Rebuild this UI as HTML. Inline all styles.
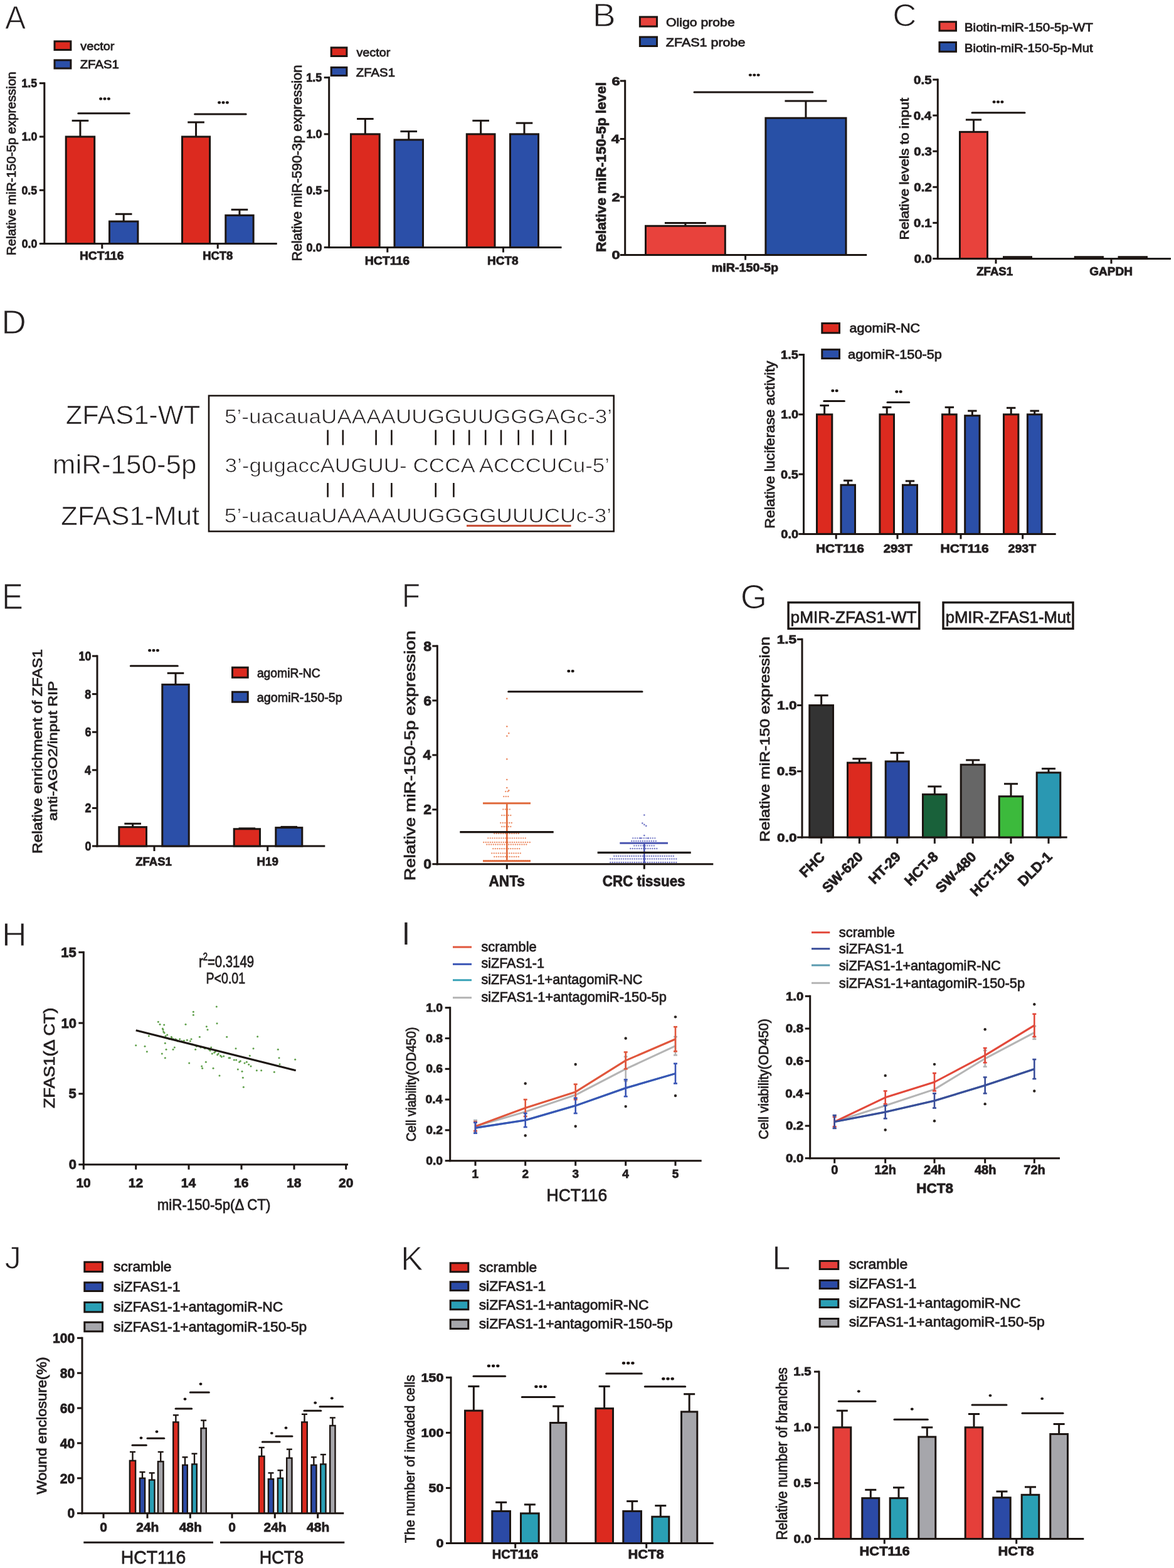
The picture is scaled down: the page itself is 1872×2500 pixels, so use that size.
<!DOCTYPE html>
<html><head><meta charset="utf-8"><title>Figure</title>
<style>
html,body{margin:0;padding:0;background:#fff;}
svg{display:block;}
text{font-family:"Liberation Sans",Arial,Helvetica,sans-serif;stroke:#231f20;stroke-width:0.8px;}
</style></head><body>
<svg width="1872" height="2500" viewBox="0 0 1872 2500">
<rect width="1872" height="2500" fill="#fff"/>
<text x="7.9" y="46" font-size="52.33" font-weight="normal" fill="#231f20" textLength="33.2" lengthAdjust="spacingAndGlyphs" style="stroke:#fff;stroke-width:1.1px">A</text>
<line x1="70.8" y1="131.2" x2="70.8" y2="390" stroke="#1c1512" stroke-width="3" stroke-linecap="butt"/>
<line x1="69.3" y1="388.5" x2="441.7" y2="388.5" stroke="#1c1512" stroke-width="3" stroke-linecap="butt"/>
<line x1="62.8" y1="388.5" x2="70.8" y2="388.5" stroke="#1c1512" stroke-width="3" stroke-linecap="butt"/>
<line x1="62.8" y1="303.23" x2="70.8" y2="303.23" stroke="#1c1512" stroke-width="3" stroke-linecap="butt"/>
<line x1="62.8" y1="217.97" x2="70.8" y2="217.97" stroke="#1c1512" stroke-width="3" stroke-linecap="butt"/>
<line x1="62.8" y1="132.7" x2="70.8" y2="132.7" stroke="#1c1512" stroke-width="3" stroke-linecap="butt"/>
<line x1="162.8" y1="388.5" x2="162.8" y2="396.5" stroke="#1c1512" stroke-width="3" stroke-linecap="butt"/>
<line x1="347.2" y1="388.5" x2="347.2" y2="396.5" stroke="#1c1512" stroke-width="3" stroke-linecap="butt"/>
<line x1="127.95" y1="192.39" x2="127.95" y2="217.47" stroke="#1c1512" stroke-width="3" stroke-linecap="butt"/>
<line x1="114.65" y1="192.39" x2="141.25" y2="192.39" stroke="#1c1512" stroke-width="3" stroke-linecap="butt"/>
<rect x="105.2" y="217.97" width="45.5" height="170.53" fill="#dc2a1f" stroke="#1c1512" stroke-width="3"/>
<line x1="197.2" y1="341.26" x2="197.2" y2="352.53" stroke="#1c1512" stroke-width="3" stroke-linecap="butt"/>
<line x1="183.9" y1="341.26" x2="210.5" y2="341.26" stroke="#1c1512" stroke-width="3" stroke-linecap="butt"/>
<rect x="174.5" y="353.03" width="45.4" height="35.47" fill="#2b4fa8" stroke="#1c1512" stroke-width="3"/>
<line x1="312.55" y1="194.94" x2="312.55" y2="217.47" stroke="#1c1512" stroke-width="3" stroke-linecap="butt"/>
<line x1="299.25" y1="194.94" x2="325.85" y2="194.94" stroke="#1c1512" stroke-width="3" stroke-linecap="butt"/>
<rect x="290.5" y="217.97" width="44.1" height="170.53" fill="#dc2a1f" stroke="#1c1512" stroke-width="3"/>
<line x1="381.95" y1="334.27" x2="381.95" y2="342.81" stroke="#1c1512" stroke-width="3" stroke-linecap="butt"/>
<line x1="368.65" y1="334.27" x2="395.25" y2="334.27" stroke="#1c1512" stroke-width="3" stroke-linecap="butt"/>
<rect x="359.8" y="343.31" width="44.3" height="45.19" fill="#2b4fa8" stroke="#1c1512" stroke-width="3"/>
<line x1="124.8" y1="180.8" x2="206.2" y2="180.8" stroke="#1c1512" stroke-width="3" stroke-linecap="round"/>
<ellipse cx="160.6" cy="157.5" rx="2.55" ry="2.2" fill="#1c1512"/>
<ellipse cx="167" cy="157.5" rx="2.55" ry="2.2" fill="#1c1512"/>
<ellipse cx="173.4" cy="157.5" rx="2.55" ry="2.2" fill="#1c1512"/>
<line x1="310.6" y1="182" x2="392.2" y2="182" stroke="#1c1512" stroke-width="3" stroke-linecap="round"/>
<ellipse cx="349.6" cy="163.5" rx="2.55" ry="2.2" fill="#1c1512"/>
<ellipse cx="356" cy="163.5" rx="2.55" ry="2.2" fill="#1c1512"/>
<ellipse cx="362.4" cy="163.5" rx="2.55" ry="2.2" fill="#1c1512"/>
<text x="34.69" y="394.78" font-size="18" font-weight="bold" fill="#231f20" textLength="24.52" lengthAdjust="spacingAndGlyphs">0.0</text>
<text x="34.46" y="309.52" font-size="18" font-weight="bold" fill="#231f20" textLength="24.52" lengthAdjust="spacingAndGlyphs">0.5</text>
<text x="34.69" y="224.25" font-size="18" font-weight="bold" fill="#231f20" textLength="24.52" lengthAdjust="spacingAndGlyphs">1.0</text>
<text x="34.46" y="138.89" font-size="18" font-weight="bold" fill="#231f20" textLength="24.52" lengthAdjust="spacingAndGlyphs">1.5</text>
<text x="127.03" y="413.9" font-size="17.5" font-weight="bold" fill="#231f20" textLength="70.35" lengthAdjust="spacingAndGlyphs">HCT116</text>
<text x="323.18" y="413.9" font-size="17.5" font-weight="bold" fill="#231f20" textLength="48.18" lengthAdjust="spacingAndGlyphs">HCT8</text>
<text transform="translate(25,407.19) rotate(-90)" x="0" y="0" font-size="21" font-weight="normal" fill="#231f20" textLength="293.02" lengthAdjust="spacingAndGlyphs">Relative miR-150-5p expression</text>
<rect x="87" y="65.9" width="25.9" height="13.6" fill="#dc2a1f" stroke="#1c1512" stroke-width="3"/>
<rect x="87" y="95.9" width="25.9" height="13.1" fill="#2b4fa8" stroke="#1c1512" stroke-width="3"/>
<text x="128.24" y="80" font-size="19" font-weight="normal" fill="#231f20" textLength="54.08" lengthAdjust="spacingAndGlyphs">vector</text>
<text x="127.67" y="108.9" font-size="19" font-weight="normal" fill="#231f20" textLength="62.2" lengthAdjust="spacingAndGlyphs">ZFAS1</text>
<line x1="524.7" y1="122.1" x2="524.7" y2="395.9" stroke="#1c1512" stroke-width="3" stroke-linecap="butt"/>
<line x1="523.2" y1="394.4" x2="895.5" y2="394.4" stroke="#1c1512" stroke-width="3" stroke-linecap="butt"/>
<line x1="516.7" y1="394.4" x2="524.7" y2="394.4" stroke="#1c1512" stroke-width="3" stroke-linecap="butt"/>
<line x1="516.7" y1="304.13" x2="524.7" y2="304.13" stroke="#1c1512" stroke-width="3" stroke-linecap="butt"/>
<line x1="516.7" y1="213.87" x2="524.7" y2="213.87" stroke="#1c1512" stroke-width="3" stroke-linecap="butt"/>
<line x1="516.7" y1="123.6" x2="524.7" y2="123.6" stroke="#1c1512" stroke-width="3" stroke-linecap="butt"/>
<line x1="617.8" y1="394.4" x2="617.8" y2="402.4" stroke="#1c1512" stroke-width="3" stroke-linecap="butt"/>
<line x1="802.5" y1="394.4" x2="802.5" y2="402.4" stroke="#1c1512" stroke-width="3" stroke-linecap="butt"/>
<line x1="582.35" y1="189.49" x2="582.35" y2="213.37" stroke="#1c1512" stroke-width="3" stroke-linecap="butt"/>
<line x1="569.05" y1="189.49" x2="595.65" y2="189.49" stroke="#1c1512" stroke-width="3" stroke-linecap="butt"/>
<rect x="559.5" y="213.87" width="45.7" height="180.53" fill="#dc2a1f" stroke="#1c1512" stroke-width="3"/>
<line x1="651.75" y1="209.53" x2="651.75" y2="222.39" stroke="#1c1512" stroke-width="3" stroke-linecap="butt"/>
<line x1="638.45" y1="209.53" x2="665.05" y2="209.53" stroke="#1c1512" stroke-width="3" stroke-linecap="butt"/>
<rect x="629" y="222.89" width="45.5" height="171.51" fill="#2b4fa8" stroke="#1c1512" stroke-width="3"/>
<line x1="766.65" y1="192.38" x2="766.65" y2="213.37" stroke="#1c1512" stroke-width="3" stroke-linecap="butt"/>
<line x1="753.35" y1="192.38" x2="779.95" y2="192.38" stroke="#1c1512" stroke-width="3" stroke-linecap="butt"/>
<rect x="744.3" y="213.87" width="44.7" height="180.53" fill="#dc2a1f" stroke="#1c1512" stroke-width="3"/>
<line x1="836" y1="196.17" x2="836" y2="213.37" stroke="#1c1512" stroke-width="3" stroke-linecap="butt"/>
<line x1="822.7" y1="196.17" x2="849.3" y2="196.17" stroke="#1c1512" stroke-width="3" stroke-linecap="butt"/>
<rect x="813.5" y="213.87" width="45" height="180.53" fill="#2b4fa8" stroke="#1c1512" stroke-width="3"/>
<text x="488.4" y="400.68" font-size="18" font-weight="bold" fill="#231f20" textLength="25.02" lengthAdjust="spacingAndGlyphs">0.0</text>
<text x="488.17" y="310.42" font-size="18" font-weight="bold" fill="#231f20" textLength="25.02" lengthAdjust="spacingAndGlyphs">0.5</text>
<text x="488.4" y="220.15" font-size="18" font-weight="bold" fill="#231f20" textLength="25.02" lengthAdjust="spacingAndGlyphs">1.0</text>
<text x="488.17" y="129.79" font-size="18" font-weight="bold" fill="#231f20" textLength="25.02" lengthAdjust="spacingAndGlyphs">1.5</text>
<text x="581.71" y="422" font-size="17.5" font-weight="bold" fill="#231f20" textLength="71.48" lengthAdjust="spacingAndGlyphs">HCT116</text>
<text x="777.05" y="422" font-size="17.5" font-weight="bold" fill="#231f20" textLength="49.53" lengthAdjust="spacingAndGlyphs">HCT8</text>
<text transform="translate(480.5,416.4) rotate(-90)" x="0" y="0" font-size="21.5" font-weight="normal" fill="#231f20" textLength="312.92" lengthAdjust="spacingAndGlyphs">Relative miR-590-3p expression</text>
<rect x="528.2" y="75.9" width="24.7" height="13.6" fill="#dc2a1f" stroke="#1c1512" stroke-width="3"/>
<rect x="528.2" y="107.5" width="24.7" height="13" fill="#2b4fa8" stroke="#1c1512" stroke-width="3"/>
<text x="568.44" y="90" font-size="19" font-weight="normal" fill="#231f20" textLength="53.88" lengthAdjust="spacingAndGlyphs">vector</text>
<text x="567.87" y="121.5" font-size="19" font-weight="normal" fill="#231f20" textLength="62.1" lengthAdjust="spacingAndGlyphs">ZFAS1</text>
<text x="944.85" y="41.7" font-size="52.62" font-weight="normal" fill="#231f20" textLength="37.04" lengthAdjust="spacingAndGlyphs" style="stroke:#fff;stroke-width:1.1px">B</text>
<line x1="996.7" y1="127.5" x2="996.7" y2="408" stroke="#1c1512" stroke-width="3" stroke-linecap="butt"/>
<line x1="995.2" y1="406.5" x2="1382.2" y2="406.5" stroke="#1c1512" stroke-width="3" stroke-linecap="butt"/>
<line x1="988.7" y1="406.5" x2="996.7" y2="406.5" stroke="#1c1512" stroke-width="3" stroke-linecap="butt"/>
<line x1="988.7" y1="314" x2="996.7" y2="314" stroke="#1c1512" stroke-width="3" stroke-linecap="butt"/>
<line x1="988.7" y1="221.5" x2="996.7" y2="221.5" stroke="#1c1512" stroke-width="3" stroke-linecap="butt"/>
<line x1="988.7" y1="129" x2="996.7" y2="129" stroke="#1c1512" stroke-width="3" stroke-linecap="butt"/>
<line x1="1188.6" y1="406.5" x2="1188.6" y2="414.5" stroke="#1c1512" stroke-width="3" stroke-linecap="butt"/>
<line x1="1092.9" y1="355.62" x2="1092.9" y2="359.75" stroke="#1c1512" stroke-width="3" stroke-linecap="butt"/>
<line x1="1059.9" y1="355.62" x2="1125.9" y2="355.62" stroke="#1c1512" stroke-width="3" stroke-linecap="butt"/>
<rect x="1029.5" y="360.25" width="126.8" height="46.25" fill="#e8423c" stroke="#1c1512" stroke-width="3"/>
<line x1="1284.95" y1="160.91" x2="1284.95" y2="187.7" stroke="#1c1512" stroke-width="3" stroke-linecap="butt"/>
<line x1="1251.45" y1="160.91" x2="1318.45" y2="160.91" stroke="#1c1512" stroke-width="3" stroke-linecap="butt"/>
<rect x="1220.9" y="188.2" width="128.1" height="218.3" fill="#2850a6" stroke="#1c1512" stroke-width="3"/>
<line x1="1107" y1="147" x2="1295.8" y2="147" stroke="#1c1512" stroke-width="3" stroke-linecap="round"/>
<ellipse cx="1196.4" cy="119.6" rx="2.55" ry="2.2" fill="#1c1512"/>
<ellipse cx="1202.8" cy="119.6" rx="2.55" ry="2.2" fill="#1c1512"/>
<ellipse cx="1209.2" cy="119.6" rx="2.55" ry="2.2" fill="#1c1512"/>
<text x="975.54" y="413.13" font-size="19" font-weight="bold" fill="#231f20" textLength="13.21" lengthAdjust="spacingAndGlyphs">0</text>
<text x="975.52" y="320.63" font-size="19" font-weight="bold" fill="#231f20" textLength="13.21" lengthAdjust="spacingAndGlyphs">2</text>
<text x="974.71" y="228.04" font-size="19" font-weight="bold" fill="#231f20" textLength="13.21" lengthAdjust="spacingAndGlyphs">4</text>
<text x="975.43" y="135.63" font-size="19" font-weight="bold" fill="#231f20" textLength="13.21" lengthAdjust="spacingAndGlyphs">6</text>
<text x="1134.72" y="433.3" font-size="17.5" font-weight="bold" fill="#231f20" textLength="106.39" lengthAdjust="spacingAndGlyphs">miR-150-5p</text>
<text transform="translate(965.7,401.79) rotate(-90)" x="0" y="0" font-size="22" font-weight="bold" fill="#231f20" textLength="270.77" lengthAdjust="spacingAndGlyphs">Relative miR-150-5p level</text>
<rect x="1020.4" y="27" width="27.1" height="15.1" fill="#e8423c" stroke="#1c1512" stroke-width="3"/>
<rect x="1020.4" y="59" width="27.1" height="14.5" fill="#2850a6" stroke="#1c1512" stroke-width="3"/>
<text x="1062" y="42.2" font-size="19" font-weight="normal" fill="#231f20" textLength="109.73" lengthAdjust="spacingAndGlyphs">Oligo probe</text>
<text x="1061.83" y="74.2" font-size="19" font-weight="normal" fill="#231f20" textLength="126.61" lengthAdjust="spacingAndGlyphs">ZFAS1 probe</text>
<text x="1423.35" y="41.6" font-size="50.28" font-weight="normal" fill="#231f20" textLength="38.21" lengthAdjust="spacingAndGlyphs" style="stroke:#fff;stroke-width:1.1px">C</text>
<line x1="1495.3" y1="125.5" x2="1495.3" y2="413.9" stroke="#1c1512" stroke-width="3" stroke-linecap="butt"/>
<line x1="1493.8" y1="412.4" x2="1867" y2="412.4" stroke="#1c1512" stroke-width="3" stroke-linecap="butt"/>
<line x1="1487.3" y1="412.4" x2="1495.3" y2="412.4" stroke="#1c1512" stroke-width="3" stroke-linecap="butt"/>
<line x1="1487.3" y1="355.32" x2="1495.3" y2="355.32" stroke="#1c1512" stroke-width="3" stroke-linecap="butt"/>
<line x1="1487.3" y1="298.24" x2="1495.3" y2="298.24" stroke="#1c1512" stroke-width="3" stroke-linecap="butt"/>
<line x1="1487.3" y1="241.16" x2="1495.3" y2="241.16" stroke="#1c1512" stroke-width="3" stroke-linecap="butt"/>
<line x1="1487.3" y1="184.08" x2="1495.3" y2="184.08" stroke="#1c1512" stroke-width="3" stroke-linecap="butt"/>
<line x1="1487.3" y1="127" x2="1495.3" y2="127" stroke="#1c1512" stroke-width="3" stroke-linecap="butt"/>
<line x1="1588" y1="412.4" x2="1588" y2="420.4" stroke="#1c1512" stroke-width="3" stroke-linecap="butt"/>
<line x1="1772" y1="412.4" x2="1772" y2="420.4" stroke="#1c1512" stroke-width="3" stroke-linecap="butt"/>
<line x1="1552.5" y1="190.93" x2="1552.5" y2="209.84" stroke="#1c1512" stroke-width="3" stroke-linecap="butt"/>
<line x1="1539.9" y1="190.93" x2="1565.1" y2="190.93" stroke="#1c1512" stroke-width="3" stroke-linecap="butt"/>
<rect x="1530.5" y="210.34" width="44" height="202.06" fill="#e8423c" stroke="#1c1512" stroke-width="3"/>
<rect x="1600.3" y="409.5" width="44.4" height="2.9" fill="#333" stroke="#1c1512" stroke-width="2.6"/>
<rect x="1714" y="409.5" width="44.7" height="2.9" fill="#333" stroke="#1c1512" stroke-width="2.6"/>
<rect x="1783.8" y="409.5" width="44.9" height="2.9" fill="#333" stroke="#1c1512" stroke-width="2.6"/>
<line x1="1550" y1="179.7" x2="1634" y2="179.7" stroke="#1c1512" stroke-width="3" stroke-linecap="round"/>
<ellipse cx="1585.1" cy="162.5" rx="2.55" ry="2.2" fill="#1c1512"/>
<ellipse cx="1591.5" cy="162.5" rx="2.55" ry="2.2" fill="#1c1512"/>
<ellipse cx="1597.9" cy="162.5" rx="2.55" ry="2.2" fill="#1c1512"/>
<text x="1457.4" y="419.03" font-size="19" font-weight="bold" fill="#231f20" textLength="28.53" lengthAdjust="spacingAndGlyphs">0.0</text>
<text x="1457.13" y="361.95" font-size="19" font-weight="bold" fill="#231f20" textLength="28.53" lengthAdjust="spacingAndGlyphs">0.1</text>
<text x="1457.38" y="304.87" font-size="19" font-weight="bold" fill="#231f20" textLength="28.53" lengthAdjust="spacingAndGlyphs">0.2</text>
<text x="1457.3" y="247.79" font-size="19" font-weight="bold" fill="#231f20" textLength="28.53" lengthAdjust="spacingAndGlyphs">0.3</text>
<text x="1456.68" y="190.71" font-size="19" font-weight="bold" fill="#231f20" textLength="28.53" lengthAdjust="spacingAndGlyphs">0.4</text>
<text x="1457.13" y="133.63" font-size="19" font-weight="bold" fill="#231f20" textLength="28.53" lengthAdjust="spacingAndGlyphs">0.5</text>
<text x="1557.16" y="439" font-size="17.5" font-weight="bold" fill="#231f20" textLength="58.04" lengthAdjust="spacingAndGlyphs">ZFAS1</text>
<text x="1737.22" y="439" font-size="17.5" font-weight="bold" fill="#231f20" textLength="68.87" lengthAdjust="spacingAndGlyphs">GAPDH</text>
<text transform="translate(1449,382.46) rotate(-90)" x="0" y="0" font-size="20" font-weight="normal" fill="#231f20" textLength="226.4" lengthAdjust="spacingAndGlyphs">Relative levels to input</text>
<rect x="1498" y="34.8" width="26.5" height="14.2" fill="#e8423c" stroke="#1c1512" stroke-width="3"/>
<rect x="1498" y="67.5" width="26.5" height="14.8" fill="#2850a6" stroke="#1c1512" stroke-width="3"/>
<text x="1537.81" y="50" font-size="19" font-weight="normal" fill="#231f20" textLength="205.15" lengthAdjust="spacingAndGlyphs">Biotin-miR-150-5p-WT</text>
<text x="1537.83" y="82.6" font-size="19" font-weight="normal" fill="#231f20" textLength="204.81" lengthAdjust="spacingAndGlyphs">Biotin-miR-150-5p-Mut</text>
<text x="2.19" y="531.7" font-size="53.34" font-weight="normal" fill="#231f20" textLength="39.7" lengthAdjust="spacingAndGlyphs" style="stroke:#fff;stroke-width:1.1px">D</text>
<rect x="333" y="630.9" width="645.7" height="216.3" fill="none" stroke="#1c1512" stroke-width="2.6"/>
<text x="104.65" y="676" font-size="42" font-weight="normal" fill="#231f20" textLength="214.62" lengthAdjust="spacingAndGlyphs" style="stroke:#fff;stroke-width:0.7px">ZFAS1-WT</text>
<text x="83.8" y="755" font-size="42" font-weight="normal" fill="#231f20" textLength="229.71" lengthAdjust="spacingAndGlyphs" style="stroke:#fff;stroke-width:0.7px">miR-150-5p</text>
<text x="96.94" y="837.3" font-size="42" font-weight="normal" fill="#231f20" textLength="221.35" lengthAdjust="spacingAndGlyphs" style="stroke:#fff;stroke-width:0.7px">ZFAS1-Mut</text>
<text x="357.9" y="675" font-size="31" font-weight="normal" fill="#231f20" textLength="618.26" lengthAdjust="spacingAndGlyphs" style="stroke:#fff;stroke-width:0.7px">5’-uacauaUAAAAUUGGUUGGGAGc-3’</text>
<text x="358.47" y="753.4" font-size="31" font-weight="normal" fill="#231f20" textLength="613.69" lengthAdjust="spacingAndGlyphs" style="stroke:#fff;stroke-width:0.7px">3’-gugaccAUGUU- CCCA ACCCUCu-5’</text>
<text x="357.89" y="833.4" font-size="31" font-weight="normal" fill="#231f20" textLength="617.26" lengthAdjust="spacingAndGlyphs" style="stroke:#fff;stroke-width:0.7px">5’-uacauaUAAAAUUGGGGUUUCUc-3’</text>
<line x1="522.6" y1="685.5" x2="522.6" y2="709.6" stroke="#1c1512" stroke-width="2.6" stroke-linecap="butt"/>
<line x1="546.8" y1="685.5" x2="546.8" y2="709.6" stroke="#1c1512" stroke-width="2.6" stroke-linecap="butt"/>
<line x1="599.6" y1="685.5" x2="599.6" y2="709.6" stroke="#1c1512" stroke-width="2.6" stroke-linecap="butt"/>
<line x1="624.4" y1="685.5" x2="624.4" y2="709.6" stroke="#1c1512" stroke-width="2.6" stroke-linecap="butt"/>
<line x1="694.7" y1="685.5" x2="694.7" y2="709.6" stroke="#1c1512" stroke-width="2.6" stroke-linecap="butt"/>
<line x1="723.4" y1="685.5" x2="723.4" y2="709.6" stroke="#1c1512" stroke-width="2.6" stroke-linecap="butt"/>
<line x1="748.2" y1="685.5" x2="748.2" y2="709.6" stroke="#1c1512" stroke-width="2.6" stroke-linecap="butt"/>
<line x1="774.2" y1="685.5" x2="774.2" y2="709.6" stroke="#1c1512" stroke-width="2.6" stroke-linecap="butt"/>
<line x1="799" y1="685.5" x2="799" y2="709.6" stroke="#1c1512" stroke-width="2.6" stroke-linecap="butt"/>
<line x1="826.7" y1="685.5" x2="826.7" y2="709.6" stroke="#1c1512" stroke-width="2.6" stroke-linecap="butt"/>
<line x1="849.6" y1="685.5" x2="849.6" y2="709.6" stroke="#1c1512" stroke-width="2.6" stroke-linecap="butt"/>
<line x1="878.9" y1="685.5" x2="878.9" y2="709.6" stroke="#1c1512" stroke-width="2.6" stroke-linecap="butt"/>
<line x1="901.6" y1="685.5" x2="901.6" y2="709.6" stroke="#1c1512" stroke-width="2.6" stroke-linecap="butt"/>
<line x1="522.6" y1="770" x2="522.6" y2="792.7" stroke="#1c1512" stroke-width="2.6" stroke-linecap="butt"/>
<line x1="546.8" y1="770" x2="546.8" y2="792.7" stroke="#1c1512" stroke-width="2.6" stroke-linecap="butt"/>
<line x1="595" y1="770" x2="595" y2="792.7" stroke="#1c1512" stroke-width="2.6" stroke-linecap="butt"/>
<line x1="624.4" y1="770" x2="624.4" y2="792.7" stroke="#1c1512" stroke-width="2.6" stroke-linecap="butt"/>
<line x1="694.7" y1="770" x2="694.7" y2="792.7" stroke="#1c1512" stroke-width="2.6" stroke-linecap="butt"/>
<line x1="723.4" y1="770" x2="723.4" y2="792.7" stroke="#1c1512" stroke-width="2.6" stroke-linecap="butt"/>
<line x1="744" y1="838.2" x2="910.6" y2="838.2" stroke="#c4462c" stroke-width="3" stroke-linecap="butt"/>
<line x1="1281.5" y1="564" x2="1281.5" y2="852.9" stroke="#1c1512" stroke-width="3" stroke-linecap="butt"/>
<line x1="1280" y1="851.4" x2="1683.7" y2="851.4" stroke="#1c1512" stroke-width="3" stroke-linecap="butt"/>
<line x1="1273.5" y1="851.4" x2="1281.5" y2="851.4" stroke="#1c1512" stroke-width="3" stroke-linecap="butt"/>
<line x1="1273.5" y1="756.1" x2="1281.5" y2="756.1" stroke="#1c1512" stroke-width="3" stroke-linecap="butt"/>
<line x1="1273.5" y1="660.8" x2="1281.5" y2="660.8" stroke="#1c1512" stroke-width="3" stroke-linecap="butt"/>
<line x1="1273.5" y1="565.5" x2="1281.5" y2="565.5" stroke="#1c1512" stroke-width="3" stroke-linecap="butt"/>
<line x1="1333.2" y1="851.4" x2="1333.2" y2="859.4" stroke="#1c1512" stroke-width="3" stroke-linecap="butt"/>
<line x1="1431" y1="851.4" x2="1431" y2="859.4" stroke="#1c1512" stroke-width="3" stroke-linecap="butt"/>
<line x1="1532" y1="851.4" x2="1532" y2="859.4" stroke="#1c1512" stroke-width="3" stroke-linecap="butt"/>
<line x1="1630.7" y1="851.4" x2="1630.7" y2="859.4" stroke="#1c1512" stroke-width="3" stroke-linecap="butt"/>
<line x1="1314.65" y1="646.5" x2="1314.65" y2="660.3" stroke="#1c1512" stroke-width="3" stroke-linecap="butt"/>
<line x1="1307.45" y1="646.5" x2="1321.85" y2="646.5" stroke="#1c1512" stroke-width="3" stroke-linecap="butt"/>
<rect x="1302.5" y="660.8" width="24.3" height="190.6" fill="#dc2a1f" stroke="#1c1512" stroke-width="3"/>
<line x1="1352.25" y1="766.2" x2="1352.25" y2="772.75" stroke="#1c1512" stroke-width="3" stroke-linecap="butt"/>
<line x1="1345.05" y1="766.2" x2="1359.45" y2="766.2" stroke="#1c1512" stroke-width="3" stroke-linecap="butt"/>
<rect x="1341" y="773.25" width="22.5" height="78.15" fill="#2b4fa8" stroke="#1c1512" stroke-width="3"/>
<line x1="1414.2" y1="649.36" x2="1414.2" y2="660.3" stroke="#1c1512" stroke-width="3" stroke-linecap="butt"/>
<line x1="1407" y1="649.36" x2="1421.4" y2="649.36" stroke="#1c1512" stroke-width="3" stroke-linecap="butt"/>
<rect x="1402.9" y="660.8" width="22.6" height="190.6" fill="#dc2a1f" stroke="#1c1512" stroke-width="3"/>
<line x1="1451" y1="766.96" x2="1451" y2="772.75" stroke="#1c1512" stroke-width="3" stroke-linecap="butt"/>
<line x1="1443.8" y1="766.96" x2="1458.2" y2="766.96" stroke="#1c1512" stroke-width="3" stroke-linecap="butt"/>
<rect x="1439.5" y="773.25" width="23" height="78.15" fill="#2b4fa8" stroke="#1c1512" stroke-width="3"/>
<line x1="1513.85" y1="649.36" x2="1513.85" y2="660.3" stroke="#1c1512" stroke-width="3" stroke-linecap="butt"/>
<line x1="1506.65" y1="649.36" x2="1521.05" y2="649.36" stroke="#1c1512" stroke-width="3" stroke-linecap="butt"/>
<rect x="1502.5" y="660.8" width="22.7" height="190.6" fill="#dc2a1f" stroke="#1c1512" stroke-width="3"/>
<line x1="1550.35" y1="655.08" x2="1550.35" y2="662.21" stroke="#1c1512" stroke-width="3" stroke-linecap="butt"/>
<line x1="1543.15" y1="655.08" x2="1557.55" y2="655.08" stroke="#1c1512" stroke-width="3" stroke-linecap="butt"/>
<rect x="1538.7" y="662.71" width="23.3" height="188.69" fill="#2b4fa8" stroke="#1c1512" stroke-width="3"/>
<line x1="1612.2" y1="650.32" x2="1612.2" y2="660.3" stroke="#1c1512" stroke-width="3" stroke-linecap="butt"/>
<line x1="1605" y1="650.32" x2="1619.4" y2="650.32" stroke="#1c1512" stroke-width="3" stroke-linecap="butt"/>
<rect x="1600.5" y="660.8" width="23.4" height="190.6" fill="#dc2a1f" stroke="#1c1512" stroke-width="3"/>
<line x1="1649.7" y1="655.08" x2="1649.7" y2="660.3" stroke="#1c1512" stroke-width="3" stroke-linecap="butt"/>
<line x1="1642.5" y1="655.08" x2="1656.9" y2="655.08" stroke="#1c1512" stroke-width="3" stroke-linecap="butt"/>
<rect x="1638.4" y="660.8" width="22.6" height="190.6" fill="#2b4fa8" stroke="#1c1512" stroke-width="3"/>
<line x1="1313.8" y1="639.5" x2="1346.4" y2="639.5" stroke="#1c1512" stroke-width="3" stroke-linecap="round"/>
<ellipse cx="1327.8" cy="623" rx="2.55" ry="2.2" fill="#1c1512"/>
<ellipse cx="1334.2" cy="623" rx="2.55" ry="2.2" fill="#1c1512"/>
<line x1="1415" y1="641.6" x2="1449.7" y2="641.6" stroke="#1c1512" stroke-width="3" stroke-linecap="round"/>
<ellipse cx="1429.8" cy="624.5" rx="2.55" ry="2.2" fill="#1c1512"/>
<ellipse cx="1436.2" cy="624.5" rx="2.55" ry="2.2" fill="#1c1512"/>
<text x="1245.37" y="858.03" font-size="19" font-weight="bold" fill="#231f20" textLength="27.73" lengthAdjust="spacingAndGlyphs">0.0</text>
<text x="1245.11" y="762.73" font-size="19" font-weight="bold" fill="#231f20" textLength="27.73" lengthAdjust="spacingAndGlyphs">0.5</text>
<text x="1245.37" y="667.43" font-size="19" font-weight="bold" fill="#231f20" textLength="27.73" lengthAdjust="spacingAndGlyphs">1.0</text>
<text x="1245.11" y="572.04" font-size="19" font-weight="bold" fill="#231f20" textLength="27.73" lengthAdjust="spacingAndGlyphs">1.5</text>
<text x="1300.91" y="881" font-size="19" font-weight="bold" fill="#231f20" textLength="77.03" lengthAdjust="spacingAndGlyphs">HCT116</text>
<text x="1408.81" y="881" font-size="19" font-weight="bold" fill="#231f20" textLength="46.2" lengthAdjust="spacingAndGlyphs">293T</text>
<text x="1499.61" y="881" font-size="19" font-weight="bold" fill="#231f20" textLength="77.03" lengthAdjust="spacingAndGlyphs">HCT116</text>
<text x="1607.53" y="881" font-size="19" font-weight="bold" fill="#231f20" textLength="44.67" lengthAdjust="spacingAndGlyphs">293T</text>
<text transform="translate(1234.5,842.81) rotate(-90)" x="0" y="0" font-size="22" font-weight="normal" fill="#231f20" textLength="267.56" lengthAdjust="spacingAndGlyphs">Relative luciferase activity</text>
<rect x="1310.8" y="515.5" width="27.7" height="15.3" fill="#dc2a1f" stroke="#1c1512" stroke-width="3"/>
<rect x="1310.8" y="557.3" width="27.7" height="14.2" fill="#2b4fa8" stroke="#1c1512" stroke-width="3"/>
<text x="1354.6" y="530" font-size="20" font-weight="normal" fill="#231f20" textLength="112.51" lengthAdjust="spacingAndGlyphs">agomiR-NC</text>
<text x="1352.09" y="571.5" font-size="20" font-weight="normal" fill="#231f20" textLength="149.82" lengthAdjust="spacingAndGlyphs">agomiR-150-5p</text>
<text x="3.12" y="970.7" font-size="56.69" font-weight="normal" fill="#231f20" textLength="34.03" lengthAdjust="spacingAndGlyphs" style="stroke:#fff;stroke-width:1.1px">E</text>
<line x1="155" y1="1044.5" x2="155" y2="1350.5" stroke="#1c1512" stroke-width="3" stroke-linecap="butt"/>
<line x1="153.5" y1="1349" x2="518.3" y2="1349" stroke="#1c1512" stroke-width="3" stroke-linecap="butt"/>
<line x1="147" y1="1349" x2="155" y2="1349" stroke="#1c1512" stroke-width="3" stroke-linecap="butt"/>
<line x1="147" y1="1288.4" x2="155" y2="1288.4" stroke="#1c1512" stroke-width="3" stroke-linecap="butt"/>
<line x1="147" y1="1227.8" x2="155" y2="1227.8" stroke="#1c1512" stroke-width="3" stroke-linecap="butt"/>
<line x1="147" y1="1167.2" x2="155" y2="1167.2" stroke="#1c1512" stroke-width="3" stroke-linecap="butt"/>
<line x1="147" y1="1106.6" x2="155" y2="1106.6" stroke="#1c1512" stroke-width="3" stroke-linecap="butt"/>
<line x1="147" y1="1046" x2="155" y2="1046" stroke="#1c1512" stroke-width="3" stroke-linecap="butt"/>
<line x1="246" y1="1349" x2="246" y2="1357" stroke="#1c1512" stroke-width="3" stroke-linecap="butt"/>
<line x1="426.7" y1="1349" x2="426.7" y2="1357" stroke="#1c1512" stroke-width="3" stroke-linecap="butt"/>
<line x1="211.65" y1="1313.25" x2="211.65" y2="1318.2" stroke="#1c1512" stroke-width="3" stroke-linecap="butt"/>
<line x1="198.35" y1="1313.25" x2="224.95" y2="1313.25" stroke="#1c1512" stroke-width="3" stroke-linecap="butt"/>
<rect x="189.8" y="1318.7" width="43.7" height="30.3" fill="#dc2a1f" stroke="#1c1512" stroke-width="3"/>
<line x1="280" y1="1073.27" x2="280" y2="1090.95" stroke="#1c1512" stroke-width="3" stroke-linecap="butt"/>
<line x1="266.7" y1="1073.27" x2="293.3" y2="1073.27" stroke="#1c1512" stroke-width="3" stroke-linecap="butt"/>
<rect x="258.8" y="1091.45" width="42.4" height="257.55" fill="#2b4fa8" stroke="#1c1512" stroke-width="3"/>
<line x1="393.85" y1="1320.82" x2="393.85" y2="1321.23" stroke="#1c1512" stroke-width="3" stroke-linecap="butt"/>
<line x1="380.55" y1="1320.82" x2="407.15" y2="1320.82" stroke="#1c1512" stroke-width="3" stroke-linecap="butt"/>
<rect x="373.2" y="1321.73" width="41.3" height="27.27" fill="#dc2a1f" stroke="#1c1512" stroke-width="3"/>
<line x1="460.8" y1="1318.4" x2="460.8" y2="1319.11" stroke="#1c1512" stroke-width="3" stroke-linecap="butt"/>
<line x1="447.5" y1="1318.4" x2="474.1" y2="1318.4" stroke="#1c1512" stroke-width="3" stroke-linecap="butt"/>
<rect x="439.8" y="1319.61" width="42" height="29.39" fill="#2b4fa8" stroke="#1c1512" stroke-width="3"/>
<line x1="208.3" y1="1061.7" x2="283.3" y2="1061.7" stroke="#1c1512" stroke-width="3" stroke-linecap="round"/>
<ellipse cx="238.6" cy="1037" rx="2.55" ry="2.2" fill="#1c1512"/>
<ellipse cx="245" cy="1037" rx="2.55" ry="2.2" fill="#1c1512"/>
<ellipse cx="251.4" cy="1037" rx="2.55" ry="2.2" fill="#1c1512"/>
<text x="135.51" y="1355.98" font-size="20" font-weight="bold" fill="#231f20" textLength="10.01" lengthAdjust="spacingAndGlyphs">0</text>
<text x="135.49" y="1295.38" font-size="20" font-weight="bold" fill="#231f20" textLength="10.01" lengthAdjust="spacingAndGlyphs">2</text>
<text x="134.88" y="1234.68" font-size="20" font-weight="bold" fill="#231f20" textLength="10.01" lengthAdjust="spacingAndGlyphs">4</text>
<text x="135.42" y="1174.18" font-size="20" font-weight="bold" fill="#231f20" textLength="10.01" lengthAdjust="spacingAndGlyphs">6</text>
<text x="135.33" y="1113.58" font-size="20" font-weight="bold" fill="#231f20" textLength="10.01" lengthAdjust="spacingAndGlyphs">8</text>
<text x="125.5" y="1052.98" font-size="20" font-weight="bold" fill="#231f20" textLength="20.02" lengthAdjust="spacingAndGlyphs">10</text>
<text x="216.16" y="1380" font-size="19" font-weight="bold" fill="#231f20" textLength="57.63" lengthAdjust="spacingAndGlyphs">ZFAS1</text>
<text x="409.46" y="1380" font-size="19" font-weight="bold" fill="#231f20" textLength="34.53" lengthAdjust="spacingAndGlyphs">H19</text>
<text transform="translate(66.9,1361.01) rotate(-90)" x="0" y="0" font-size="21.5" font-weight="normal" fill="#231f20" textLength="325.88" lengthAdjust="spacingAndGlyphs">Relative enrichment of ZFAS1</text>
<text transform="translate(90.5,1308.73) rotate(-90)" x="0" y="0" font-size="21" font-weight="normal" fill="#231f20" textLength="223.01" lengthAdjust="spacingAndGlyphs">anti-AGO2/input RIP</text>
<rect x="370.5" y="1064.2" width="24.7" height="16" fill="#dc2a1f" stroke="#1c1512" stroke-width="3"/>
<rect x="370.5" y="1103.2" width="24.7" height="16" fill="#2b4fa8" stroke="#1c1512" stroke-width="3"/>
<text x="409.89" y="1080" font-size="20" font-weight="normal" fill="#231f20" textLength="100.83" lengthAdjust="spacingAndGlyphs">agomiR-NC</text>
<text x="409.87" y="1119.3" font-size="20" font-weight="normal" fill="#231f20" textLength="135.95" lengthAdjust="spacingAndGlyphs">agomiR-150-5p</text>
<text x="641.09" y="968.3" font-size="53.2" font-weight="normal" fill="#231f20" textLength="29.11" lengthAdjust="spacingAndGlyphs" style="stroke:#fff;stroke-width:1.1px">F</text>
<line x1="697.3" y1="1028.5" x2="697.3" y2="1379.2" stroke="#1c1512" stroke-width="3" stroke-linecap="butt"/>
<line x1="695.8" y1="1377.7" x2="1137.3" y2="1377.7" stroke="#1c1512" stroke-width="3" stroke-linecap="butt"/>
<line x1="689.3" y1="1377.7" x2="697.3" y2="1377.7" stroke="#1c1512" stroke-width="3" stroke-linecap="butt"/>
<line x1="689.3" y1="1290.78" x2="697.3" y2="1290.78" stroke="#1c1512" stroke-width="3" stroke-linecap="butt"/>
<line x1="689.3" y1="1203.85" x2="697.3" y2="1203.85" stroke="#1c1512" stroke-width="3" stroke-linecap="butt"/>
<line x1="689.3" y1="1116.92" x2="697.3" y2="1116.92" stroke="#1c1512" stroke-width="3" stroke-linecap="butt"/>
<line x1="689.3" y1="1030" x2="697.3" y2="1030" stroke="#1c1512" stroke-width="3" stroke-linecap="butt"/>
<line x1="808.3" y1="1377.7" x2="808.3" y2="1385.7" stroke="#1c1512" stroke-width="3" stroke-linecap="butt"/>
<line x1="1027.3" y1="1377.7" x2="1027.3" y2="1385.7" stroke="#1c1512" stroke-width="3" stroke-linecap="butt"/>
<circle cx="771.3" cy="1372.5" r="1.15" fill="#ec8a62"/>
<circle cx="774.8" cy="1372.5" r="1.15" fill="#ec8a62"/>
<circle cx="778.3" cy="1372.5" r="1.15" fill="#ec8a62"/>
<circle cx="781.8" cy="1372.5" r="1.15" fill="#ec8a62"/>
<circle cx="785.3" cy="1372.5" r="1.15" fill="#ec8a62"/>
<circle cx="788.8" cy="1372.5" r="1.15" fill="#ec8a62"/>
<circle cx="792.3" cy="1372.5" r="1.15" fill="#ec8a62"/>
<circle cx="795.8" cy="1372.5" r="1.15" fill="#ec8a62"/>
<circle cx="799.3" cy="1372.5" r="1.15" fill="#ec8a62"/>
<circle cx="802.8" cy="1372.5" r="1.15" fill="#ec8a62"/>
<circle cx="806.3" cy="1372.5" r="1.15" fill="#ec8a62"/>
<circle cx="809.8" cy="1372.5" r="1.15" fill="#ec8a62"/>
<circle cx="813.3" cy="1372.5" r="1.15" fill="#ec8a62"/>
<circle cx="816.8" cy="1372.5" r="1.15" fill="#ec8a62"/>
<circle cx="820.3" cy="1372.5" r="1.15" fill="#ec8a62"/>
<circle cx="823.8" cy="1372.5" r="1.15" fill="#ec8a62"/>
<circle cx="827.3" cy="1372.5" r="1.15" fill="#ec8a62"/>
<circle cx="830.8" cy="1372.5" r="1.15" fill="#ec8a62"/>
<circle cx="834.3" cy="1372.5" r="1.15" fill="#ec8a62"/>
<circle cx="837.8" cy="1372.5" r="1.15" fill="#ec8a62"/>
<circle cx="841.3" cy="1372.5" r="1.15" fill="#ec8a62"/>
<circle cx="844.8" cy="1372.5" r="1.15" fill="#ec8a62"/>
<circle cx="788.3" cy="1366" r="1.15" fill="#ec8a62"/>
<circle cx="791.8" cy="1366" r="1.15" fill="#ec8a62"/>
<circle cx="795.3" cy="1366" r="1.15" fill="#ec8a62"/>
<circle cx="798.8" cy="1366" r="1.15" fill="#ec8a62"/>
<circle cx="802.3" cy="1366" r="1.15" fill="#ec8a62"/>
<circle cx="805.8" cy="1366" r="1.15" fill="#ec8a62"/>
<circle cx="809.3" cy="1366" r="1.15" fill="#ec8a62"/>
<circle cx="812.8" cy="1366" r="1.15" fill="#ec8a62"/>
<circle cx="816.3" cy="1366" r="1.15" fill="#ec8a62"/>
<circle cx="819.8" cy="1366" r="1.15" fill="#ec8a62"/>
<circle cx="823.3" cy="1366" r="1.15" fill="#ec8a62"/>
<circle cx="826.8" cy="1366" r="1.15" fill="#ec8a62"/>
<circle cx="784.3" cy="1360.4" r="1.15" fill="#ec8a62"/>
<circle cx="787.8" cy="1360.4" r="1.15" fill="#ec8a62"/>
<circle cx="791.3" cy="1360.4" r="1.15" fill="#ec8a62"/>
<circle cx="794.8" cy="1360.4" r="1.15" fill="#ec8a62"/>
<circle cx="798.3" cy="1360.4" r="1.15" fill="#ec8a62"/>
<circle cx="801.8" cy="1360.4" r="1.15" fill="#ec8a62"/>
<circle cx="805.3" cy="1360.4" r="1.15" fill="#ec8a62"/>
<circle cx="808.8" cy="1360.4" r="1.15" fill="#ec8a62"/>
<circle cx="812.3" cy="1360.4" r="1.15" fill="#ec8a62"/>
<circle cx="815.8" cy="1360.4" r="1.15" fill="#ec8a62"/>
<circle cx="819.3" cy="1360.4" r="1.15" fill="#ec8a62"/>
<circle cx="822.8" cy="1360.4" r="1.15" fill="#ec8a62"/>
<circle cx="826.3" cy="1360.4" r="1.15" fill="#ec8a62"/>
<circle cx="829.8" cy="1360.4" r="1.15" fill="#ec8a62"/>
<circle cx="786.3" cy="1353.2" r="1.15" fill="#ec8a62"/>
<circle cx="789.8" cy="1353.2" r="1.15" fill="#ec8a62"/>
<circle cx="793.3" cy="1353.2" r="1.15" fill="#ec8a62"/>
<circle cx="796.8" cy="1353.2" r="1.15" fill="#ec8a62"/>
<circle cx="800.3" cy="1353.2" r="1.15" fill="#ec8a62"/>
<circle cx="803.8" cy="1353.2" r="1.15" fill="#ec8a62"/>
<circle cx="807.3" cy="1353.2" r="1.15" fill="#ec8a62"/>
<circle cx="810.8" cy="1353.2" r="1.15" fill="#ec8a62"/>
<circle cx="814.3" cy="1353.2" r="1.15" fill="#ec8a62"/>
<circle cx="817.8" cy="1353.2" r="1.15" fill="#ec8a62"/>
<circle cx="821.3" cy="1353.2" r="1.15" fill="#ec8a62"/>
<circle cx="824.8" cy="1353.2" r="1.15" fill="#ec8a62"/>
<circle cx="828.3" cy="1353.2" r="1.15" fill="#ec8a62"/>
<circle cx="776.3" cy="1346.5" r="1.15" fill="#ec8a62"/>
<circle cx="779.8" cy="1346.5" r="1.15" fill="#ec8a62"/>
<circle cx="783.3" cy="1346.5" r="1.15" fill="#ec8a62"/>
<circle cx="786.8" cy="1346.5" r="1.15" fill="#ec8a62"/>
<circle cx="790.3" cy="1346.5" r="1.15" fill="#ec8a62"/>
<circle cx="793.8" cy="1346.5" r="1.15" fill="#ec8a62"/>
<circle cx="797.3" cy="1346.5" r="1.15" fill="#ec8a62"/>
<circle cx="800.8" cy="1346.5" r="1.15" fill="#ec8a62"/>
<circle cx="804.3" cy="1346.5" r="1.15" fill="#ec8a62"/>
<circle cx="807.8" cy="1346.5" r="1.15" fill="#ec8a62"/>
<circle cx="811.3" cy="1346.5" r="1.15" fill="#ec8a62"/>
<circle cx="814.8" cy="1346.5" r="1.15" fill="#ec8a62"/>
<circle cx="818.3" cy="1346.5" r="1.15" fill="#ec8a62"/>
<circle cx="821.8" cy="1346.5" r="1.15" fill="#ec8a62"/>
<circle cx="825.3" cy="1346.5" r="1.15" fill="#ec8a62"/>
<circle cx="828.8" cy="1346.5" r="1.15" fill="#ec8a62"/>
<circle cx="832.3" cy="1346.5" r="1.15" fill="#ec8a62"/>
<circle cx="835.8" cy="1346.5" r="1.15" fill="#ec8a62"/>
<circle cx="839.3" cy="1346.5" r="1.15" fill="#ec8a62"/>
<circle cx="771.3" cy="1343" r="1.15" fill="#ec8a62"/>
<circle cx="774.8" cy="1343" r="1.15" fill="#ec8a62"/>
<circle cx="778.3" cy="1343" r="1.15" fill="#ec8a62"/>
<circle cx="781.8" cy="1343" r="1.15" fill="#ec8a62"/>
<circle cx="785.3" cy="1343" r="1.15" fill="#ec8a62"/>
<circle cx="788.8" cy="1343" r="1.15" fill="#ec8a62"/>
<circle cx="792.3" cy="1343" r="1.15" fill="#ec8a62"/>
<circle cx="795.8" cy="1343" r="1.15" fill="#ec8a62"/>
<circle cx="799.3" cy="1343" r="1.15" fill="#ec8a62"/>
<circle cx="802.8" cy="1343" r="1.15" fill="#ec8a62"/>
<circle cx="806.3" cy="1343" r="1.15" fill="#ec8a62"/>
<circle cx="809.8" cy="1343" r="1.15" fill="#ec8a62"/>
<circle cx="813.3" cy="1343" r="1.15" fill="#ec8a62"/>
<circle cx="816.8" cy="1343" r="1.15" fill="#ec8a62"/>
<circle cx="820.3" cy="1343" r="1.15" fill="#ec8a62"/>
<circle cx="823.8" cy="1343" r="1.15" fill="#ec8a62"/>
<circle cx="827.3" cy="1343" r="1.15" fill="#ec8a62"/>
<circle cx="830.8" cy="1343" r="1.15" fill="#ec8a62"/>
<circle cx="834.3" cy="1343" r="1.15" fill="#ec8a62"/>
<circle cx="837.8" cy="1343" r="1.15" fill="#ec8a62"/>
<circle cx="841.3" cy="1343" r="1.15" fill="#ec8a62"/>
<circle cx="844.8" cy="1343" r="1.15" fill="#ec8a62"/>
<circle cx="778.3" cy="1336.3" r="1.15" fill="#ec8a62"/>
<circle cx="781.8" cy="1336.3" r="1.15" fill="#ec8a62"/>
<circle cx="785.3" cy="1336.3" r="1.15" fill="#ec8a62"/>
<circle cx="788.8" cy="1336.3" r="1.15" fill="#ec8a62"/>
<circle cx="792.3" cy="1336.3" r="1.15" fill="#ec8a62"/>
<circle cx="795.8" cy="1336.3" r="1.15" fill="#ec8a62"/>
<circle cx="799.3" cy="1336.3" r="1.15" fill="#ec8a62"/>
<circle cx="802.8" cy="1336.3" r="1.15" fill="#ec8a62"/>
<circle cx="806.3" cy="1336.3" r="1.15" fill="#ec8a62"/>
<circle cx="809.8" cy="1336.3" r="1.15" fill="#ec8a62"/>
<circle cx="813.3" cy="1336.3" r="1.15" fill="#ec8a62"/>
<circle cx="816.8" cy="1336.3" r="1.15" fill="#ec8a62"/>
<circle cx="820.3" cy="1336.3" r="1.15" fill="#ec8a62"/>
<circle cx="823.8" cy="1336.3" r="1.15" fill="#ec8a62"/>
<circle cx="827.3" cy="1336.3" r="1.15" fill="#ec8a62"/>
<circle cx="830.8" cy="1336.3" r="1.15" fill="#ec8a62"/>
<circle cx="834.3" cy="1336.3" r="1.15" fill="#ec8a62"/>
<circle cx="837.8" cy="1336.3" r="1.15" fill="#ec8a62"/>
<circle cx="788.3" cy="1329" r="1.15" fill="#ec8a62"/>
<circle cx="791.8" cy="1329" r="1.15" fill="#ec8a62"/>
<circle cx="795.3" cy="1329" r="1.15" fill="#ec8a62"/>
<circle cx="798.8" cy="1329" r="1.15" fill="#ec8a62"/>
<circle cx="802.3" cy="1329" r="1.15" fill="#ec8a62"/>
<circle cx="805.8" cy="1329" r="1.15" fill="#ec8a62"/>
<circle cx="809.3" cy="1329" r="1.15" fill="#ec8a62"/>
<circle cx="812.8" cy="1329" r="1.15" fill="#ec8a62"/>
<circle cx="816.3" cy="1329" r="1.15" fill="#ec8a62"/>
<circle cx="819.8" cy="1329" r="1.15" fill="#ec8a62"/>
<circle cx="823.3" cy="1329" r="1.15" fill="#ec8a62"/>
<circle cx="826.8" cy="1329" r="1.15" fill="#ec8a62"/>
<circle cx="800.3" cy="1318" r="1.15" fill="#ec8a62"/>
<circle cx="803.8" cy="1318" r="1.15" fill="#ec8a62"/>
<circle cx="807.3" cy="1318" r="1.15" fill="#ec8a62"/>
<circle cx="810.8" cy="1318" r="1.15" fill="#ec8a62"/>
<circle cx="814.3" cy="1318" r="1.15" fill="#ec8a62"/>
<circle cx="798.3" cy="1312" r="1.15" fill="#ec8a62"/>
<circle cx="801.8" cy="1312" r="1.15" fill="#ec8a62"/>
<circle cx="805.3" cy="1312" r="1.15" fill="#ec8a62"/>
<circle cx="808.8" cy="1312" r="1.15" fill="#ec8a62"/>
<circle cx="812.3" cy="1312" r="1.15" fill="#ec8a62"/>
<circle cx="815.8" cy="1312" r="1.15" fill="#ec8a62"/>
<circle cx="800.3" cy="1300" r="1.15" fill="#ec8a62"/>
<circle cx="803.8" cy="1300" r="1.15" fill="#ec8a62"/>
<circle cx="807.3" cy="1300" r="1.15" fill="#ec8a62"/>
<circle cx="810.8" cy="1300" r="1.15" fill="#ec8a62"/>
<circle cx="814.3" cy="1300" r="1.15" fill="#ec8a62"/>
<circle cx="802.3" cy="1290.4" r="1.15" fill="#ec8a62"/>
<circle cx="805.8" cy="1290.4" r="1.15" fill="#ec8a62"/>
<circle cx="809.3" cy="1290.4" r="1.15" fill="#ec8a62"/>
<circle cx="812.8" cy="1290.4" r="1.15" fill="#ec8a62"/>
<circle cx="803.3" cy="1270" r="1.15" fill="#ec8a62"/>
<circle cx="806.8" cy="1270" r="1.15" fill="#ec8a62"/>
<circle cx="810.3" cy="1270" r="1.15" fill="#ec8a62"/>
<circle cx="806.3" cy="1262" r="1.15" fill="#ec8a62"/>
<circle cx="809.8" cy="1262" r="1.15" fill="#ec8a62"/>
<circle cx="808.3" cy="1113.88" r="1.3" fill="#ec8a62"/>
<circle cx="808.3" cy="1158.21" r="1.3" fill="#ec8a62"/>
<circle cx="811.3" cy="1169.08" r="1.3" fill="#ec8a62"/>
<circle cx="808.3" cy="1173.43" r="1.3" fill="#ec8a62"/>
<circle cx="808.3" cy="1210.37" r="1.3" fill="#ec8a62"/>
<circle cx="808.3" cy="1242.97" r="1.3" fill="#ec8a62"/>
<circle cx="808.3" cy="1256.01" r="1.3" fill="#ec8a62"/>
<circle cx="811.3" cy="1260.35" r="1.3" fill="#ec8a62"/>
<circle cx="973.3" cy="1375" r="1.15" fill="#6f74c4"/>
<circle cx="976.8" cy="1375" r="1.15" fill="#6f74c4"/>
<circle cx="980.3" cy="1375" r="1.15" fill="#6f74c4"/>
<circle cx="983.8" cy="1375" r="1.15" fill="#6f74c4"/>
<circle cx="987.3" cy="1375" r="1.15" fill="#6f74c4"/>
<circle cx="990.8" cy="1375" r="1.15" fill="#6f74c4"/>
<circle cx="994.3" cy="1375" r="1.15" fill="#6f74c4"/>
<circle cx="997.8" cy="1375" r="1.15" fill="#6f74c4"/>
<circle cx="1001.3" cy="1375" r="1.15" fill="#6f74c4"/>
<circle cx="1004.8" cy="1375" r="1.15" fill="#6f74c4"/>
<circle cx="1008.3" cy="1375" r="1.15" fill="#6f74c4"/>
<circle cx="1011.8" cy="1375" r="1.15" fill="#6f74c4"/>
<circle cx="1015.3" cy="1375" r="1.15" fill="#6f74c4"/>
<circle cx="1018.8" cy="1375" r="1.15" fill="#6f74c4"/>
<circle cx="1022.3" cy="1375" r="1.15" fill="#6f74c4"/>
<circle cx="1025.8" cy="1375" r="1.15" fill="#6f74c4"/>
<circle cx="1029.3" cy="1375" r="1.15" fill="#6f74c4"/>
<circle cx="1032.8" cy="1375" r="1.15" fill="#6f74c4"/>
<circle cx="1036.3" cy="1375" r="1.15" fill="#6f74c4"/>
<circle cx="1039.8" cy="1375" r="1.15" fill="#6f74c4"/>
<circle cx="1043.3" cy="1375" r="1.15" fill="#6f74c4"/>
<circle cx="1046.8" cy="1375" r="1.15" fill="#6f74c4"/>
<circle cx="1050.3" cy="1375" r="1.15" fill="#6f74c4"/>
<circle cx="1053.8" cy="1375" r="1.15" fill="#6f74c4"/>
<circle cx="1057.3" cy="1375" r="1.15" fill="#6f74c4"/>
<circle cx="1060.8" cy="1375" r="1.15" fill="#6f74c4"/>
<circle cx="1064.3" cy="1375" r="1.15" fill="#6f74c4"/>
<circle cx="1067.8" cy="1375" r="1.15" fill="#6f74c4"/>
<circle cx="1071.3" cy="1375" r="1.15" fill="#6f74c4"/>
<circle cx="1074.8" cy="1375" r="1.15" fill="#6f74c4"/>
<circle cx="1078.3" cy="1375" r="1.15" fill="#6f74c4"/>
<circle cx="973.3" cy="1369.5" r="1.15" fill="#6f74c4"/>
<circle cx="976.8" cy="1369.5" r="1.15" fill="#6f74c4"/>
<circle cx="980.3" cy="1369.5" r="1.15" fill="#6f74c4"/>
<circle cx="983.8" cy="1369.5" r="1.15" fill="#6f74c4"/>
<circle cx="987.3" cy="1369.5" r="1.15" fill="#6f74c4"/>
<circle cx="990.8" cy="1369.5" r="1.15" fill="#6f74c4"/>
<circle cx="994.3" cy="1369.5" r="1.15" fill="#6f74c4"/>
<circle cx="997.8" cy="1369.5" r="1.15" fill="#6f74c4"/>
<circle cx="1001.3" cy="1369.5" r="1.15" fill="#6f74c4"/>
<circle cx="1004.8" cy="1369.5" r="1.15" fill="#6f74c4"/>
<circle cx="1008.3" cy="1369.5" r="1.15" fill="#6f74c4"/>
<circle cx="1011.8" cy="1369.5" r="1.15" fill="#6f74c4"/>
<circle cx="1015.3" cy="1369.5" r="1.15" fill="#6f74c4"/>
<circle cx="1018.8" cy="1369.5" r="1.15" fill="#6f74c4"/>
<circle cx="1022.3" cy="1369.5" r="1.15" fill="#6f74c4"/>
<circle cx="1025.8" cy="1369.5" r="1.15" fill="#6f74c4"/>
<circle cx="1029.3" cy="1369.5" r="1.15" fill="#6f74c4"/>
<circle cx="1032.8" cy="1369.5" r="1.15" fill="#6f74c4"/>
<circle cx="1036.3" cy="1369.5" r="1.15" fill="#6f74c4"/>
<circle cx="1039.8" cy="1369.5" r="1.15" fill="#6f74c4"/>
<circle cx="1043.3" cy="1369.5" r="1.15" fill="#6f74c4"/>
<circle cx="1046.8" cy="1369.5" r="1.15" fill="#6f74c4"/>
<circle cx="1050.3" cy="1369.5" r="1.15" fill="#6f74c4"/>
<circle cx="1053.8" cy="1369.5" r="1.15" fill="#6f74c4"/>
<circle cx="1057.3" cy="1369.5" r="1.15" fill="#6f74c4"/>
<circle cx="1060.8" cy="1369.5" r="1.15" fill="#6f74c4"/>
<circle cx="1064.3" cy="1369.5" r="1.15" fill="#6f74c4"/>
<circle cx="1067.8" cy="1369.5" r="1.15" fill="#6f74c4"/>
<circle cx="1071.3" cy="1369.5" r="1.15" fill="#6f74c4"/>
<circle cx="1074.8" cy="1369.5" r="1.15" fill="#6f74c4"/>
<circle cx="1078.3" cy="1369.5" r="1.15" fill="#6f74c4"/>
<circle cx="979.3" cy="1365" r="1.15" fill="#6f74c4"/>
<circle cx="982.8" cy="1365" r="1.15" fill="#6f74c4"/>
<circle cx="986.3" cy="1365" r="1.15" fill="#6f74c4"/>
<circle cx="989.8" cy="1365" r="1.15" fill="#6f74c4"/>
<circle cx="993.3" cy="1365" r="1.15" fill="#6f74c4"/>
<circle cx="996.8" cy="1365" r="1.15" fill="#6f74c4"/>
<circle cx="1000.3" cy="1365" r="1.15" fill="#6f74c4"/>
<circle cx="1003.8" cy="1365" r="1.15" fill="#6f74c4"/>
<circle cx="1007.3" cy="1365" r="1.15" fill="#6f74c4"/>
<circle cx="1010.8" cy="1365" r="1.15" fill="#6f74c4"/>
<circle cx="1014.3" cy="1365" r="1.15" fill="#6f74c4"/>
<circle cx="1017.8" cy="1365" r="1.15" fill="#6f74c4"/>
<circle cx="1021.3" cy="1365" r="1.15" fill="#6f74c4"/>
<circle cx="1024.8" cy="1365" r="1.15" fill="#6f74c4"/>
<circle cx="1028.3" cy="1365" r="1.15" fill="#6f74c4"/>
<circle cx="1031.8" cy="1365" r="1.15" fill="#6f74c4"/>
<circle cx="1035.3" cy="1365" r="1.15" fill="#6f74c4"/>
<circle cx="1038.8" cy="1365" r="1.15" fill="#6f74c4"/>
<circle cx="1042.3" cy="1365" r="1.15" fill="#6f74c4"/>
<circle cx="1045.8" cy="1365" r="1.15" fill="#6f74c4"/>
<circle cx="1049.3" cy="1365" r="1.15" fill="#6f74c4"/>
<circle cx="1052.8" cy="1365" r="1.15" fill="#6f74c4"/>
<circle cx="1056.3" cy="1365" r="1.15" fill="#6f74c4"/>
<circle cx="1059.8" cy="1365" r="1.15" fill="#6f74c4"/>
<circle cx="1063.3" cy="1365" r="1.15" fill="#6f74c4"/>
<circle cx="1066.8" cy="1365" r="1.15" fill="#6f74c4"/>
<circle cx="1070.3" cy="1365" r="1.15" fill="#6f74c4"/>
<circle cx="1073.8" cy="1365" r="1.15" fill="#6f74c4"/>
<circle cx="982.3" cy="1359.2" r="1.15" fill="#6f74c4"/>
<circle cx="985.8" cy="1359.2" r="1.15" fill="#6f74c4"/>
<circle cx="989.3" cy="1359.2" r="1.15" fill="#6f74c4"/>
<circle cx="992.8" cy="1359.2" r="1.15" fill="#6f74c4"/>
<circle cx="996.3" cy="1359.2" r="1.15" fill="#6f74c4"/>
<circle cx="999.8" cy="1359.2" r="1.15" fill="#6f74c4"/>
<circle cx="1003.3" cy="1359.2" r="1.15" fill="#6f74c4"/>
<circle cx="1006.8" cy="1359.2" r="1.15" fill="#6f74c4"/>
<circle cx="1010.3" cy="1359.2" r="1.15" fill="#6f74c4"/>
<circle cx="1013.8" cy="1359.2" r="1.15" fill="#6f74c4"/>
<circle cx="1017.3" cy="1359.2" r="1.15" fill="#6f74c4"/>
<circle cx="1020.8" cy="1359.2" r="1.15" fill="#6f74c4"/>
<circle cx="1024.3" cy="1359.2" r="1.15" fill="#6f74c4"/>
<circle cx="1027.8" cy="1359.2" r="1.15" fill="#6f74c4"/>
<circle cx="1031.3" cy="1359.2" r="1.15" fill="#6f74c4"/>
<circle cx="1034.8" cy="1359.2" r="1.15" fill="#6f74c4"/>
<circle cx="1038.3" cy="1359.2" r="1.15" fill="#6f74c4"/>
<circle cx="1041.8" cy="1359.2" r="1.15" fill="#6f74c4"/>
<circle cx="1045.3" cy="1359.2" r="1.15" fill="#6f74c4"/>
<circle cx="1048.8" cy="1359.2" r="1.15" fill="#6f74c4"/>
<circle cx="1052.3" cy="1359.2" r="1.15" fill="#6f74c4"/>
<circle cx="1055.8" cy="1359.2" r="1.15" fill="#6f74c4"/>
<circle cx="1059.3" cy="1359.2" r="1.15" fill="#6f74c4"/>
<circle cx="1062.8" cy="1359.2" r="1.15" fill="#6f74c4"/>
<circle cx="1066.3" cy="1359.2" r="1.15" fill="#6f74c4"/>
<circle cx="1069.8" cy="1359.2" r="1.15" fill="#6f74c4"/>
<circle cx="1005.3" cy="1353" r="1.15" fill="#6f74c4"/>
<circle cx="1008.8" cy="1353" r="1.15" fill="#6f74c4"/>
<circle cx="1012.3" cy="1353" r="1.15" fill="#6f74c4"/>
<circle cx="1015.8" cy="1353" r="1.15" fill="#6f74c4"/>
<circle cx="1019.3" cy="1353" r="1.15" fill="#6f74c4"/>
<circle cx="1022.8" cy="1353" r="1.15" fill="#6f74c4"/>
<circle cx="1026.3" cy="1353" r="1.15" fill="#6f74c4"/>
<circle cx="1029.8" cy="1353" r="1.15" fill="#6f74c4"/>
<circle cx="1033.3" cy="1353" r="1.15" fill="#6f74c4"/>
<circle cx="1036.8" cy="1353" r="1.15" fill="#6f74c4"/>
<circle cx="1040.3" cy="1353" r="1.15" fill="#6f74c4"/>
<circle cx="1043.8" cy="1353" r="1.15" fill="#6f74c4"/>
<circle cx="1047.3" cy="1353" r="1.15" fill="#6f74c4"/>
<circle cx="1011.3" cy="1348.4" r="1.15" fill="#6f74c4"/>
<circle cx="1014.8" cy="1348.4" r="1.15" fill="#6f74c4"/>
<circle cx="1018.3" cy="1348.4" r="1.15" fill="#6f74c4"/>
<circle cx="1021.8" cy="1348.4" r="1.15" fill="#6f74c4"/>
<circle cx="1025.3" cy="1348.4" r="1.15" fill="#6f74c4"/>
<circle cx="1028.8" cy="1348.4" r="1.15" fill="#6f74c4"/>
<circle cx="1032.3" cy="1348.4" r="1.15" fill="#6f74c4"/>
<circle cx="1035.8" cy="1348.4" r="1.15" fill="#6f74c4"/>
<circle cx="1039.3" cy="1348.4" r="1.15" fill="#6f74c4"/>
<circle cx="1042.8" cy="1348.4" r="1.15" fill="#6f74c4"/>
<circle cx="1007.3" cy="1341" r="1.15" fill="#6f74c4"/>
<circle cx="1010.8" cy="1341" r="1.15" fill="#6f74c4"/>
<circle cx="1014.3" cy="1341" r="1.15" fill="#6f74c4"/>
<circle cx="1017.8" cy="1341" r="1.15" fill="#6f74c4"/>
<circle cx="1021.3" cy="1341" r="1.15" fill="#6f74c4"/>
<circle cx="1024.8" cy="1341" r="1.15" fill="#6f74c4"/>
<circle cx="1028.3" cy="1341" r="1.15" fill="#6f74c4"/>
<circle cx="1031.8" cy="1341" r="1.15" fill="#6f74c4"/>
<circle cx="1035.3" cy="1341" r="1.15" fill="#6f74c4"/>
<circle cx="1038.8" cy="1341" r="1.15" fill="#6f74c4"/>
<circle cx="1042.3" cy="1341" r="1.15" fill="#6f74c4"/>
<circle cx="1045.8" cy="1341" r="1.15" fill="#6f74c4"/>
<circle cx="1009.3" cy="1336.3" r="1.15" fill="#6f74c4"/>
<circle cx="1012.8" cy="1336.3" r="1.15" fill="#6f74c4"/>
<circle cx="1016.3" cy="1336.3" r="1.15" fill="#6f74c4"/>
<circle cx="1019.8" cy="1336.3" r="1.15" fill="#6f74c4"/>
<circle cx="1023.3" cy="1336.3" r="1.15" fill="#6f74c4"/>
<circle cx="1026.8" cy="1336.3" r="1.15" fill="#6f74c4"/>
<circle cx="1030.3" cy="1336.3" r="1.15" fill="#6f74c4"/>
<circle cx="1033.8" cy="1336.3" r="1.15" fill="#6f74c4"/>
<circle cx="1037.3" cy="1336.3" r="1.15" fill="#6f74c4"/>
<circle cx="1040.8" cy="1336.3" r="1.15" fill="#6f74c4"/>
<circle cx="1044.3" cy="1336.3" r="1.15" fill="#6f74c4"/>
<circle cx="1027.3" cy="1299.47" r="1.3" fill="#6f74c4"/>
<circle cx="1024.3" cy="1312.51" r="1.3" fill="#6f74c4"/>
<circle cx="1030.3" cy="1316.85" r="1.3" fill="#6f74c4"/>
<circle cx="1027.3" cy="1314.68" r="1.3" fill="#6f74c4"/>
<circle cx="1027.3" cy="1332.06" r="1.3" fill="#6f74c4"/>
<circle cx="1021.3" cy="1336.41" r="1.3" fill="#6f74c4"/>
<circle cx="1033.3" cy="1336.41" r="1.3" fill="#6f74c4"/>
<line x1="808.3" y1="1280.7" x2="808.3" y2="1372.7" stroke="#e06a3c" stroke-width="2.6" stroke-linecap="butt"/>
<line x1="770" y1="1280.7" x2="846" y2="1280.7" stroke="#e06a3c" stroke-width="3" stroke-linecap="butt"/>
<line x1="770" y1="1372.7" x2="846" y2="1372.7" stroke="#e06a3c" stroke-width="3" stroke-linecap="butt"/>
<line x1="733.3" y1="1326.7" x2="882.7" y2="1326.7" stroke="#1c1512" stroke-width="3.2" stroke-linecap="butt"/>
<line x1="1027.3" y1="1344.3" x2="1027.3" y2="1376" stroke="#4a55b0" stroke-width="2.6" stroke-linecap="butt"/>
<line x1="988.3" y1="1344.3" x2="1065" y2="1344.3" stroke="#4a55b0" stroke-width="3" stroke-linecap="butt"/>
<line x1="952.7" y1="1359.3" x2="1101.7" y2="1359.3" stroke="#1c1512" stroke-width="3.2" stroke-linecap="butt"/>
<line x1="810.7" y1="1102.7" x2="1024" y2="1102.7" stroke="#1c1512" stroke-width="3" stroke-linecap="round"/>
<ellipse cx="906.8" cy="1070" rx="2.55" ry="2.2" fill="#1c1512"/>
<ellipse cx="913.2" cy="1070" rx="2.55" ry="2.2" fill="#1c1512"/>
<text x="675.38" y="1385.38" font-size="22" font-weight="bold" fill="#231f20" textLength="12.85" lengthAdjust="spacingAndGlyphs">0</text>
<text x="675.36" y="1298.45" font-size="22" font-weight="bold" fill="#231f20" textLength="12.85" lengthAdjust="spacingAndGlyphs">2</text>
<text x="674.57" y="1211.42" font-size="22" font-weight="bold" fill="#231f20" textLength="12.85" lengthAdjust="spacingAndGlyphs">4</text>
<text x="675.26" y="1124.6" font-size="22" font-weight="bold" fill="#231f20" textLength="12.85" lengthAdjust="spacingAndGlyphs">6</text>
<text x="675.15" y="1037.68" font-size="22" font-weight="bold" fill="#231f20" textLength="12.85" lengthAdjust="spacingAndGlyphs">8</text>
<text x="779.46" y="1412.7" font-size="24" font-weight="bold" fill="#231f20" textLength="57.45" lengthAdjust="spacingAndGlyphs">ANTs</text>
<text x="960.78" y="1412.7" font-size="24" font-weight="bold" fill="#231f20" textLength="131.8" lengthAdjust="spacingAndGlyphs">CRC tissues</text>
<text transform="translate(662,1404) rotate(-90)" x="0" y="0" font-size="23" font-weight="normal" fill="#231f20" textLength="398.51" lengthAdjust="spacingAndGlyphs">Relative miR-150-5p expression</text>
<text x="1180.79" y="969.8" font-size="53.67" font-weight="normal" fill="#231f20" textLength="42.22" lengthAdjust="spacingAndGlyphs" style="stroke:#fff;stroke-width:1.1px">G</text>
<rect x="1257.1" y="960.6" width="208.7" height="41.7" fill="none" stroke="#1c1512" stroke-width="3.4"/>
<rect x="1504" y="960.6" width="207" height="41.7" fill="none" stroke="#1c1512" stroke-width="3.4"/>
<text x="1260.62" y="993.3" font-size="26" font-weight="normal" fill="#231f20" textLength="200.97" lengthAdjust="spacingAndGlyphs">pMIR-ZFAS1-WT</text>
<text x="1507.66" y="993.3" font-size="26" font-weight="normal" fill="#231f20" textLength="199.52" lengthAdjust="spacingAndGlyphs">pMIR-ZFAS1-Mut</text>
<line x1="1279" y1="1017.8" x2="1279" y2="1336.5" stroke="#1c1512" stroke-width="3" stroke-linecap="butt"/>
<line x1="1277.5" y1="1335" x2="1701.7" y2="1335" stroke="#1c1512" stroke-width="3" stroke-linecap="butt"/>
<line x1="1271" y1="1335" x2="1279" y2="1335" stroke="#1c1512" stroke-width="3" stroke-linecap="butt"/>
<line x1="1271" y1="1229.77" x2="1279" y2="1229.77" stroke="#1c1512" stroke-width="3" stroke-linecap="butt"/>
<line x1="1271" y1="1124.53" x2="1279" y2="1124.53" stroke="#1c1512" stroke-width="3" stroke-linecap="butt"/>
<line x1="1271" y1="1019.3" x2="1279" y2="1019.3" stroke="#1c1512" stroke-width="3" stroke-linecap="butt"/>
<line x1="1309.65" y1="1335" x2="1309.65" y2="1345" stroke="#1c1512" stroke-width="3" stroke-linecap="butt"/>
<line x1="1370.35" y1="1335" x2="1370.35" y2="1345" stroke="#1c1512" stroke-width="3" stroke-linecap="butt"/>
<line x1="1430.7" y1="1335" x2="1430.7" y2="1345" stroke="#1c1512" stroke-width="3" stroke-linecap="butt"/>
<line x1="1490.35" y1="1335" x2="1490.35" y2="1345" stroke="#1c1512" stroke-width="3" stroke-linecap="butt"/>
<line x1="1551.2" y1="1335" x2="1551.2" y2="1345" stroke="#1c1512" stroke-width="3" stroke-linecap="butt"/>
<line x1="1612" y1="1335" x2="1612" y2="1345" stroke="#1c1512" stroke-width="3" stroke-linecap="butt"/>
<line x1="1672" y1="1335" x2="1672" y2="1345" stroke="#1c1512" stroke-width="3" stroke-linecap="butt"/>
<line x1="1309.65" y1="1108.75" x2="1309.65" y2="1124.03" stroke="#1c1512" stroke-width="3" stroke-linecap="butt"/>
<line x1="1298.65" y1="1108.75" x2="1320.65" y2="1108.75" stroke="#1c1512" stroke-width="3" stroke-linecap="butt"/>
<rect x="1290.8" y="1124.53" width="37.7" height="210.47" fill="#333333" stroke="#1c1512" stroke-width="3"/>
<line x1="1370.35" y1="1209.77" x2="1370.35" y2="1215.59" stroke="#1c1512" stroke-width="3" stroke-linecap="butt"/>
<line x1="1359.35" y1="1209.77" x2="1381.35" y2="1209.77" stroke="#1c1512" stroke-width="3" stroke-linecap="butt"/>
<rect x="1351.5" y="1216.09" width="37.7" height="118.91" fill="#dc2a1f" stroke="#1c1512" stroke-width="3"/>
<line x1="1430.7" y1="1200.3" x2="1430.7" y2="1213.48" stroke="#1c1512" stroke-width="3" stroke-linecap="butt"/>
<line x1="1419.7" y1="1200.3" x2="1441.7" y2="1200.3" stroke="#1c1512" stroke-width="3" stroke-linecap="butt"/>
<rect x="1412.2" y="1213.98" width="37" height="121.02" fill="#2b4aa3" stroke="#1c1512" stroke-width="3"/>
<line x1="1490.35" y1="1253.97" x2="1490.35" y2="1266.1" stroke="#1c1512" stroke-width="3" stroke-linecap="butt"/>
<line x1="1479.35" y1="1253.97" x2="1501.35" y2="1253.97" stroke="#1c1512" stroke-width="3" stroke-linecap="butt"/>
<rect x="1471.5" y="1266.6" width="37.7" height="68.4" fill="#19613a" stroke="#1c1512" stroke-width="3"/>
<line x1="1551.2" y1="1211.88" x2="1551.2" y2="1218.74" stroke="#1c1512" stroke-width="3" stroke-linecap="butt"/>
<line x1="1540.2" y1="1211.88" x2="1562.2" y2="1211.88" stroke="#1c1512" stroke-width="3" stroke-linecap="butt"/>
<rect x="1532.2" y="1219.24" width="38" height="115.76" fill="#666666" stroke="#1c1512" stroke-width="3"/>
<line x1="1612" y1="1249.76" x2="1612" y2="1269.26" stroke="#1c1512" stroke-width="3" stroke-linecap="butt"/>
<line x1="1601" y1="1249.76" x2="1623" y2="1249.76" stroke="#1c1512" stroke-width="3" stroke-linecap="butt"/>
<rect x="1593.2" y="1269.76" width="37.6" height="65.24" fill="#3cba3c" stroke="#1c1512" stroke-width="3"/>
<line x1="1672" y1="1225.56" x2="1672" y2="1231.37" stroke="#1c1512" stroke-width="3" stroke-linecap="butt"/>
<line x1="1661" y1="1225.56" x2="1683" y2="1225.56" stroke="#1c1512" stroke-width="3" stroke-linecap="butt"/>
<rect x="1653.2" y="1231.87" width="37.6" height="103.13" fill="#2a98b2" stroke="#1c1512" stroke-width="3"/>
<text x="1239.08" y="1341.63" font-size="19" font-weight="bold" fill="#231f20" textLength="31.43" lengthAdjust="spacingAndGlyphs">0.0</text>
<text x="1238.78" y="1236.4" font-size="19" font-weight="bold" fill="#231f20" textLength="31.43" lengthAdjust="spacingAndGlyphs">0.5</text>
<text x="1239.08" y="1131.16" font-size="19" font-weight="bold" fill="#231f20" textLength="31.43" lengthAdjust="spacingAndGlyphs">1.0</text>
<text x="1238.78" y="1025.84" font-size="19" font-weight="bold" fill="#231f20" textLength="31.43" lengthAdjust="spacingAndGlyphs">1.5</text>
<text transform="translate(1227,1342.3) rotate(-90)" x="0" y="0" font-size="22.5" font-weight="normal" fill="#231f20" textLength="327.35" lengthAdjust="spacingAndGlyphs">Relative miR-150 expression</text>
<text transform="translate(1316.65,1367.5) rotate(-45)" font-size="22.5" font-weight="bold" fill="#231f20" text-anchor="end">FHC</text>
<text transform="translate(1377.35,1367.5) rotate(-45)" font-size="22.5" font-weight="bold" fill="#231f20" text-anchor="end">SW-620</text>
<text transform="translate(1437.7,1367.5) rotate(-45)" font-size="22.5" font-weight="bold" fill="#231f20" text-anchor="end">HT-29</text>
<text transform="translate(1497.35,1367.5) rotate(-45)" font-size="22.5" font-weight="bold" fill="#231f20" text-anchor="end">HCT-8</text>
<text transform="translate(1558.2,1367.5) rotate(-45)" font-size="22.5" font-weight="bold" fill="#231f20" text-anchor="end">SW-480</text>
<text transform="translate(1619,1367.5) rotate(-45)" font-size="22.5" font-weight="bold" fill="#231f20" text-anchor="end">HCT-116</text>
<text transform="translate(1679,1367.5) rotate(-45)" font-size="22.5" font-weight="bold" fill="#231f20" text-anchor="end">DLD-1</text>
<text x="2.75" y="1507.7" font-size="52.33" font-weight="normal" fill="#231f20" textLength="40.05" lengthAdjust="spacingAndGlyphs" style="stroke:#fff;stroke-width:1.1px">H</text>
<line x1="133.3" y1="1516.8" x2="133.3" y2="1858.2" stroke="#1c1512" stroke-width="3" stroke-linecap="butt"/>
<line x1="131.8" y1="1856.7" x2="555" y2="1856.7" stroke="#1c1512" stroke-width="3" stroke-linecap="butt"/>
<line x1="125.3" y1="1856.7" x2="133.3" y2="1856.7" stroke="#1c1512" stroke-width="3" stroke-linecap="butt"/>
<line x1="125.3" y1="1743.9" x2="133.3" y2="1743.9" stroke="#1c1512" stroke-width="3" stroke-linecap="butt"/>
<line x1="125.3" y1="1631.1" x2="133.3" y2="1631.1" stroke="#1c1512" stroke-width="3" stroke-linecap="butt"/>
<line x1="125.3" y1="1518.3" x2="133.3" y2="1518.3" stroke="#1c1512" stroke-width="3" stroke-linecap="butt"/>
<line x1="133.3" y1="1856.7" x2="133.3" y2="1864.7" stroke="#1c1512" stroke-width="3" stroke-linecap="butt"/>
<line x1="216.7" y1="1856.7" x2="216.7" y2="1864.7" stroke="#1c1512" stroke-width="3" stroke-linecap="butt"/>
<line x1="301" y1="1856.7" x2="301" y2="1864.7" stroke="#1c1512" stroke-width="3" stroke-linecap="butt"/>
<line x1="385" y1="1856.7" x2="385" y2="1864.7" stroke="#1c1512" stroke-width="3" stroke-linecap="butt"/>
<line x1="469" y1="1856.7" x2="469" y2="1864.7" stroke="#1c1512" stroke-width="3" stroke-linecap="butt"/>
<line x1="551.7" y1="1856.7" x2="551.7" y2="1864.7" stroke="#1c1512" stroke-width="3" stroke-linecap="butt"/>
<circle cx="216.67" cy="1666.67" r="1.5" fill="#5fa04a"/>
<circle cx="231" cy="1668.33" r="1.5" fill="#5fa04a"/>
<circle cx="234.33" cy="1676.67" r="1.5" fill="#5fa04a"/>
<circle cx="237.33" cy="1651.67" r="1.5" fill="#5fa04a"/>
<circle cx="252.33" cy="1629.33" r="1.5" fill="#5fa04a"/>
<circle cx="255" cy="1633.33" r="1.5" fill="#5fa04a"/>
<circle cx="259.33" cy="1640" r="1.5" fill="#5fa04a"/>
<circle cx="260.67" cy="1645" r="1.5" fill="#5fa04a"/>
<circle cx="261.67" cy="1634" r="1.5" fill="#5fa04a"/>
<circle cx="263.33" cy="1663.33" r="1.5" fill="#5fa04a"/>
<circle cx="265" cy="1673.33" r="1.5" fill="#5fa04a"/>
<circle cx="258.33" cy="1680" r="1.5" fill="#5fa04a"/>
<circle cx="263.33" cy="1686.67" r="1.5" fill="#5fa04a"/>
<circle cx="266.67" cy="1650" r="1.5" fill="#5fa04a"/>
<circle cx="270" cy="1656.67" r="1.5" fill="#5fa04a"/>
<circle cx="273.33" cy="1653.33" r="1.5" fill="#5fa04a"/>
<circle cx="276" cy="1673.33" r="1.5" fill="#5fa04a"/>
<circle cx="278.33" cy="1670" r="1.5" fill="#5fa04a"/>
<circle cx="280" cy="1656.67" r="1.5" fill="#5fa04a"/>
<circle cx="283.33" cy="1660" r="1.5" fill="#5fa04a"/>
<circle cx="286.67" cy="1656.67" r="1.5" fill="#5fa04a"/>
<circle cx="290" cy="1660" r="1.5" fill="#5fa04a"/>
<circle cx="296" cy="1633.33" r="1.5" fill="#5fa04a"/>
<circle cx="298.33" cy="1658.33" r="1.5" fill="#5fa04a"/>
<circle cx="301.67" cy="1695" r="1.5" fill="#5fa04a"/>
<circle cx="303.33" cy="1660" r="1.5" fill="#5fa04a"/>
<circle cx="305" cy="1656.67" r="1.5" fill="#5fa04a"/>
<circle cx="308.33" cy="1613.33" r="1.5" fill="#5fa04a"/>
<circle cx="308.33" cy="1618.33" r="1.5" fill="#5fa04a"/>
<circle cx="311.67" cy="1673.33" r="1.5" fill="#5fa04a"/>
<circle cx="318.33" cy="1653.33" r="1.5" fill="#5fa04a"/>
<circle cx="321.67" cy="1700" r="1.5" fill="#5fa04a"/>
<circle cx="322.67" cy="1703.33" r="1.5" fill="#5fa04a"/>
<circle cx="325" cy="1670" r="1.5" fill="#5fa04a"/>
<circle cx="328.33" cy="1693.33" r="1.5" fill="#5fa04a"/>
<circle cx="329.33" cy="1636.67" r="1.5" fill="#5fa04a"/>
<circle cx="331" cy="1641.67" r="1.5" fill="#5fa04a"/>
<circle cx="333.33" cy="1673.33" r="1.5" fill="#5fa04a"/>
<circle cx="336.67" cy="1670" r="1.5" fill="#5fa04a"/>
<circle cx="338.33" cy="1680" r="1.5" fill="#5fa04a"/>
<circle cx="340" cy="1703.33" r="1.5" fill="#5fa04a"/>
<circle cx="343.33" cy="1676.67" r="1.5" fill="#5fa04a"/>
<circle cx="345.33" cy="1605" r="1.5" fill="#5fa04a"/>
<circle cx="346" cy="1631.67" r="1.5" fill="#5fa04a"/>
<circle cx="348.33" cy="1680" r="1.5" fill="#5fa04a"/>
<circle cx="350" cy="1715" r="1.5" fill="#5fa04a"/>
<circle cx="353.33" cy="1685" r="1.5" fill="#5fa04a"/>
<circle cx="361.67" cy="1653.33" r="1.5" fill="#5fa04a"/>
<circle cx="365" cy="1686.67" r="1.5" fill="#5fa04a"/>
<circle cx="376" cy="1671.67" r="1.5" fill="#5fa04a"/>
<circle cx="376.67" cy="1690" r="1.5" fill="#5fa04a"/>
<circle cx="379.33" cy="1705" r="1.5" fill="#5fa04a"/>
<circle cx="381.67" cy="1693.33" r="1.5" fill="#5fa04a"/>
<circle cx="386" cy="1708.33" r="1.5" fill="#5fa04a"/>
<circle cx="387.33" cy="1718.33" r="1.5" fill="#5fa04a"/>
<circle cx="388.33" cy="1733.33" r="1.5" fill="#5fa04a"/>
<circle cx="393.33" cy="1693.33" r="1.5" fill="#5fa04a"/>
<circle cx="398.33" cy="1683.33" r="1.5" fill="#5fa04a"/>
<circle cx="400" cy="1700" r="1.5" fill="#5fa04a"/>
<circle cx="404" cy="1671.67" r="1.5" fill="#5fa04a"/>
<circle cx="409.33" cy="1706.67" r="1.5" fill="#5fa04a"/>
<circle cx="410.67" cy="1652.67" r="1.5" fill="#5fa04a"/>
<circle cx="416.67" cy="1706.67" r="1.5" fill="#5fa04a"/>
<circle cx="437.33" cy="1709.33" r="1.5" fill="#5fa04a"/>
<circle cx="443.33" cy="1673.33" r="1.5" fill="#5fa04a"/>
<circle cx="445" cy="1686.67" r="1.5" fill="#5fa04a"/>
<circle cx="446" cy="1696.67" r="1.5" fill="#5fa04a"/>
<circle cx="470.67" cy="1689.33" r="1.5" fill="#5fa04a"/>
<circle cx="260" cy="1641.67" r="1.5" fill="#5fa04a"/>
<circle cx="262" cy="1646.67" r="1.5" fill="#5fa04a"/>
<circle cx="264" cy="1651.67" r="1.5" fill="#5fa04a"/>
<circle cx="266.67" cy="1655" r="1.5" fill="#5fa04a"/>
<circle cx="274" cy="1655" r="1.5" fill="#5fa04a"/>
<circle cx="276.67" cy="1656.67" r="1.5" fill="#5fa04a"/>
<circle cx="281.67" cy="1658.33" r="1.5" fill="#5fa04a"/>
<circle cx="293.33" cy="1659.33" r="1.5" fill="#5fa04a"/>
<circle cx="300" cy="1663.33" r="1.5" fill="#5fa04a"/>
<circle cx="306.67" cy="1665" r="1.5" fill="#5fa04a"/>
<circle cx="313.33" cy="1668.33" r="1.5" fill="#5fa04a"/>
<circle cx="320" cy="1670" r="1.5" fill="#5fa04a"/>
<circle cx="326.67" cy="1671.67" r="1.5" fill="#5fa04a"/>
<circle cx="335" cy="1675" r="1.5" fill="#5fa04a"/>
<circle cx="341.67" cy="1678.33" r="1.5" fill="#5fa04a"/>
<circle cx="346.67" cy="1681.67" r="1.5" fill="#5fa04a"/>
<circle cx="351.67" cy="1683.33" r="1.5" fill="#5fa04a"/>
<circle cx="356.67" cy="1684" r="1.5" fill="#5fa04a"/>
<circle cx="366.67" cy="1686.67" r="1.5" fill="#5fa04a"/>
<circle cx="373.33" cy="1690" r="1.5" fill="#5fa04a"/>
<circle cx="383.33" cy="1691.67" r="1.5" fill="#5fa04a"/>
<circle cx="390" cy="1695" r="1.5" fill="#5fa04a"/>
<circle cx="396.67" cy="1697.33" r="1.5" fill="#5fa04a"/>
<line x1="216.7" y1="1642.7" x2="471.7" y2="1706.7" stroke="#1c1512" stroke-width="3.2" stroke-linecap="butt"/>
<text x="109.75" y="1864.38" font-size="22" font-weight="bold" fill="#231f20" textLength="12.24" lengthAdjust="spacingAndGlyphs">0</text>
<text x="109.46" y="1751.47" font-size="22" font-weight="bold" fill="#231f20" textLength="12.24" lengthAdjust="spacingAndGlyphs">5</text>
<text x="97.52" y="1638.78" font-size="22" font-weight="bold" fill="#231f20" textLength="24.47" lengthAdjust="spacingAndGlyphs">10</text>
<text x="97.23" y="1525.87" font-size="22" font-weight="bold" fill="#231f20" textLength="24.47" lengthAdjust="spacingAndGlyphs">15</text>
<text x="121.39" y="1892.7" font-size="21" font-weight="bold" fill="#231f20" textLength="23.36" lengthAdjust="spacingAndGlyphs">10</text>
<text x="204.78" y="1892.7" font-size="21" font-weight="bold" fill="#231f20" textLength="23.36" lengthAdjust="spacingAndGlyphs">12</text>
<text x="288.73" y="1892.7" font-size="21" font-weight="bold" fill="#231f20" textLength="23.36" lengthAdjust="spacingAndGlyphs">14</text>
<text x="373.04" y="1892.7" font-size="21" font-weight="bold" fill="#231f20" textLength="23.36" lengthAdjust="spacingAndGlyphs">16</text>
<text x="456.99" y="1892.7" font-size="21" font-weight="bold" fill="#231f20" textLength="23.36" lengthAdjust="spacingAndGlyphs">18</text>
<text x="540.09" y="1892.7" font-size="21" font-weight="bold" fill="#231f20" textLength="23.36" lengthAdjust="spacingAndGlyphs">20</text>
<text x="317" y="1541.5" font-size="25" fill="#231f20" textLength="88" lengthAdjust="spacingAndGlyphs">r<tspan font-size="16" dy="-11">2</tspan><tspan dy="11">=0.3149</tspan></text>
<text x="328.6" y="1568.3" font-size="24.5" font-weight="normal" fill="#231f20" textLength="62.44" lengthAdjust="spacingAndGlyphs">P&lt;0.01</text>
<text x="250.83" y="1929.3" font-size="24" font-weight="normal" fill="#231f20" textLength="180.54" lengthAdjust="spacingAndGlyphs">miR-150-5p(Δ CT)</text>
<text transform="translate(86.8,1766.94) rotate(-90)" x="0" y="0" font-size="23" font-weight="normal" fill="#231f20" textLength="160.42" lengthAdjust="spacingAndGlyphs">ZFAS1(Δ CT)</text>
<rect x="645.3" y="1470.7" width="4.2" height="35.3" fill="#231f20"/>
<line x1="722" y1="1510" x2="752" y2="1510" stroke="#e0563c" stroke-width="3" stroke-linecap="butt"/>
<line x1="722" y1="1537.3" x2="752" y2="1537.3" stroke="#3a55b5" stroke-width="3" stroke-linecap="butt"/>
<line x1="722" y1="1562.7" x2="752" y2="1562.7" stroke="#3aa3b8" stroke-width="3" stroke-linecap="butt"/>
<line x1="722" y1="1590.7" x2="752" y2="1590.7" stroke="#b4b4b4" stroke-width="3" stroke-linecap="butt"/>
<text x="767.41" y="1517.3" font-size="22.5" font-weight="normal" fill="#231f20" textLength="88.24" lengthAdjust="spacingAndGlyphs">scramble</text>
<text x="767.42" y="1543.3" font-size="22.5" font-weight="normal" fill="#231f20" textLength="100.62" lengthAdjust="spacingAndGlyphs">siZFAS1-1</text>
<text x="767.41" y="1569.3" font-size="22.5" font-weight="normal" fill="#231f20" textLength="257.09" lengthAdjust="spacingAndGlyphs">siZFAS1-1+antagomiR-NC</text>
<text x="767.41" y="1596.7" font-size="22.5" font-weight="normal" fill="#231f20" textLength="295.48" lengthAdjust="spacingAndGlyphs">siZFAS1-1+antagomiR-150-5p</text>
<line x1="717.7" y1="1605.2" x2="717.7" y2="1852.2" stroke="#1c1512" stroke-width="3" stroke-linecap="butt"/>
<line x1="716.2" y1="1850.7" x2="1118.7" y2="1850.7" stroke="#1c1512" stroke-width="3" stroke-linecap="butt"/>
<line x1="709.7" y1="1850.7" x2="717.7" y2="1850.7" stroke="#1c1512" stroke-width="3" stroke-linecap="butt"/>
<line x1="709.7" y1="1801.9" x2="717.7" y2="1801.9" stroke="#1c1512" stroke-width="3" stroke-linecap="butt"/>
<line x1="709.7" y1="1753.1" x2="717.7" y2="1753.1" stroke="#1c1512" stroke-width="3" stroke-linecap="butt"/>
<line x1="709.7" y1="1704.3" x2="717.7" y2="1704.3" stroke="#1c1512" stroke-width="3" stroke-linecap="butt"/>
<line x1="709.7" y1="1655.5" x2="717.7" y2="1655.5" stroke="#1c1512" stroke-width="3" stroke-linecap="butt"/>
<line x1="709.7" y1="1606.7" x2="717.7" y2="1606.7" stroke="#1c1512" stroke-width="3" stroke-linecap="butt"/>
<line x1="758" y1="1850.7" x2="758" y2="1858.7" stroke="#1c1512" stroke-width="3" stroke-linecap="butt"/>
<line x1="837.7" y1="1850.7" x2="837.7" y2="1858.7" stroke="#1c1512" stroke-width="3" stroke-linecap="butt"/>
<line x1="917.7" y1="1850.7" x2="917.7" y2="1858.7" stroke="#1c1512" stroke-width="3" stroke-linecap="butt"/>
<line x1="997.7" y1="1850.7" x2="997.7" y2="1858.7" stroke="#1c1512" stroke-width="3" stroke-linecap="butt"/>
<line x1="1077" y1="1850.7" x2="1077" y2="1858.7" stroke="#1c1512" stroke-width="3" stroke-linecap="butt"/>
<polyline points="758,1798.24 837.7,1786.04 917.7,1762.86 997.7,1734.8 1077,1711.62" fill="none" stroke="#3aa3b8" stroke-width="3.1" stroke-linejoin="round"/>
<polyline points="758,1795.8 837.7,1772.62 917.7,1745.78 997.7,1704.3 1077,1667.7" fill="none" stroke="#b4b4b4" stroke-width="3.1" stroke-linejoin="round"/>
<line x1="758" y1="1786.04" x2="758" y2="1805.56" stroke="#b4b4b4" stroke-width="2.6" stroke-linecap="butt"/>
<line x1="755" y1="1786.04" x2="761" y2="1786.04" stroke="#b4b4b4" stroke-width="2.6" stroke-linecap="butt"/>
<line x1="755" y1="1805.56" x2="761" y2="1805.56" stroke="#b4b4b4" stroke-width="2.6" stroke-linecap="butt"/>
<line x1="997.7" y1="1684.78" x2="997.7" y2="1723.82" stroke="#b4b4b4" stroke-width="2.6" stroke-linecap="butt"/>
<line x1="994.7" y1="1684.78" x2="1000.7" y2="1684.78" stroke="#b4b4b4" stroke-width="2.6" stroke-linecap="butt"/>
<line x1="994.7" y1="1723.82" x2="1000.7" y2="1723.82" stroke="#b4b4b4" stroke-width="2.6" stroke-linecap="butt"/>
<line x1="1077" y1="1653.06" x2="1077" y2="1682.34" stroke="#b4b4b4" stroke-width="2.6" stroke-linecap="butt"/>
<line x1="1074" y1="1653.06" x2="1080" y2="1653.06" stroke="#b4b4b4" stroke-width="2.6" stroke-linecap="butt"/>
<line x1="1074" y1="1682.34" x2="1080" y2="1682.34" stroke="#b4b4b4" stroke-width="2.6" stroke-linecap="butt"/>
<polyline points="758,1795.8 837.7,1766.52 917.7,1740.9 997.7,1690.88 1077,1656.72" fill="none" stroke="#e0563c" stroke-width="3.1" stroke-linejoin="round"/>
<line x1="758" y1="1788.48" x2="758" y2="1803.12" stroke="#e0563c" stroke-width="2.6" stroke-linecap="butt"/>
<line x1="755" y1="1788.48" x2="761" y2="1788.48" stroke="#e0563c" stroke-width="2.6" stroke-linecap="butt"/>
<line x1="755" y1="1803.12" x2="761" y2="1803.12" stroke="#e0563c" stroke-width="2.6" stroke-linecap="butt"/>
<line x1="837.7" y1="1753.1" x2="837.7" y2="1779.94" stroke="#e0563c" stroke-width="2.6" stroke-linecap="butt"/>
<line x1="834.7" y1="1753.1" x2="840.7" y2="1753.1" stroke="#e0563c" stroke-width="2.6" stroke-linecap="butt"/>
<line x1="834.7" y1="1779.94" x2="840.7" y2="1779.94" stroke="#e0563c" stroke-width="2.6" stroke-linecap="butt"/>
<line x1="917.7" y1="1728.7" x2="917.7" y2="1753.1" stroke="#e0563c" stroke-width="2.6" stroke-linecap="butt"/>
<line x1="914.7" y1="1728.7" x2="920.7" y2="1728.7" stroke="#e0563c" stroke-width="2.6" stroke-linecap="butt"/>
<line x1="914.7" y1="1753.1" x2="920.7" y2="1753.1" stroke="#e0563c" stroke-width="2.6" stroke-linecap="butt"/>
<line x1="997.7" y1="1677.46" x2="997.7" y2="1704.3" stroke="#e0563c" stroke-width="2.6" stroke-linecap="butt"/>
<line x1="994.7" y1="1677.46" x2="1000.7" y2="1677.46" stroke="#e0563c" stroke-width="2.6" stroke-linecap="butt"/>
<line x1="994.7" y1="1704.3" x2="1000.7" y2="1704.3" stroke="#e0563c" stroke-width="2.6" stroke-linecap="butt"/>
<line x1="1077" y1="1637.2" x2="1077" y2="1676.24" stroke="#e0563c" stroke-width="2.6" stroke-linecap="butt"/>
<line x1="1074" y1="1637.2" x2="1080" y2="1637.2" stroke="#e0563c" stroke-width="2.6" stroke-linecap="butt"/>
<line x1="1074" y1="1676.24" x2="1080" y2="1676.24" stroke="#e0563c" stroke-width="2.6" stroke-linecap="butt"/>
<polyline points="758,1798.24 837.7,1786.04 917.7,1762.86 997.7,1734.8 1077,1711.62" fill="none" stroke="#3a55b5" stroke-width="3.1" stroke-linejoin="round"/>
<line x1="758" y1="1789.7" x2="758" y2="1806.78" stroke="#3a55b5" stroke-width="2.6" stroke-linecap="butt"/>
<line x1="755" y1="1789.7" x2="761" y2="1789.7" stroke="#3a55b5" stroke-width="2.6" stroke-linecap="butt"/>
<line x1="755" y1="1806.78" x2="761" y2="1806.78" stroke="#3a55b5" stroke-width="2.6" stroke-linecap="butt"/>
<line x1="837.7" y1="1775.06" x2="837.7" y2="1797.02" stroke="#3a55b5" stroke-width="2.6" stroke-linecap="butt"/>
<line x1="834.7" y1="1775.06" x2="840.7" y2="1775.06" stroke="#3a55b5" stroke-width="2.6" stroke-linecap="butt"/>
<line x1="834.7" y1="1797.02" x2="840.7" y2="1797.02" stroke="#3a55b5" stroke-width="2.6" stroke-linecap="butt"/>
<line x1="917.7" y1="1750.66" x2="917.7" y2="1775.06" stroke="#3a55b5" stroke-width="2.6" stroke-linecap="butt"/>
<line x1="914.7" y1="1750.66" x2="920.7" y2="1750.66" stroke="#3a55b5" stroke-width="2.6" stroke-linecap="butt"/>
<line x1="914.7" y1="1775.06" x2="920.7" y2="1775.06" stroke="#3a55b5" stroke-width="2.6" stroke-linecap="butt"/>
<line x1="997.7" y1="1721.38" x2="997.7" y2="1748.22" stroke="#3a55b5" stroke-width="2.6" stroke-linecap="butt"/>
<line x1="994.7" y1="1721.38" x2="1000.7" y2="1721.38" stroke="#3a55b5" stroke-width="2.6" stroke-linecap="butt"/>
<line x1="994.7" y1="1748.22" x2="1000.7" y2="1748.22" stroke="#3a55b5" stroke-width="2.6" stroke-linecap="butt"/>
<line x1="1077" y1="1695.76" x2="1077" y2="1727.48" stroke="#3a55b5" stroke-width="2.6" stroke-linecap="butt"/>
<line x1="1074" y1="1695.76" x2="1080" y2="1695.76" stroke="#3a55b5" stroke-width="2.6" stroke-linecap="butt"/>
<line x1="1074" y1="1727.48" x2="1080" y2="1727.48" stroke="#3a55b5" stroke-width="2.6" stroke-linecap="butt"/>
<circle cx="837.7" cy="1727.48" r="2.2" fill="#2a2420"/>
<circle cx="837.7" cy="1810.44" r="2.2" fill="#2a2420"/>
<circle cx="917.7" cy="1696.98" r="2.2" fill="#2a2420"/>
<circle cx="917.7" cy="1795.8" r="2.2" fill="#2a2420"/>
<circle cx="997.7" cy="1655.5" r="2.2" fill="#2a2420"/>
<circle cx="997.7" cy="1764.08" r="2.2" fill="#2a2420"/>
<circle cx="1077" cy="1621.34" r="2.2" fill="#2a2420"/>
<circle cx="1077" cy="1747" r="2.2" fill="#2a2420"/>
<text x="679.31" y="1856.81" font-size="17.5" font-weight="bold" fill="#231f20" textLength="26.76" lengthAdjust="spacingAndGlyphs">0.0</text>
<text x="679.29" y="1808.01" font-size="17.5" font-weight="bold" fill="#231f20" textLength="26.76" lengthAdjust="spacingAndGlyphs">0.2</text>
<text x="678.64" y="1759.21" font-size="17.5" font-weight="bold" fill="#231f20" textLength="26.76" lengthAdjust="spacingAndGlyphs">0.4</text>
<text x="679.22" y="1710.41" font-size="17.5" font-weight="bold" fill="#231f20" textLength="26.76" lengthAdjust="spacingAndGlyphs">0.6</text>
<text x="679.12" y="1661.61" font-size="17.5" font-weight="bold" fill="#231f20" textLength="26.76" lengthAdjust="spacingAndGlyphs">0.8</text>
<text x="679.31" y="1612.81" font-size="17.5" font-weight="bold" fill="#231f20" textLength="26.76" lengthAdjust="spacingAndGlyphs">1.0</text>
<text x="752.39" y="1877.5" font-size="19" font-weight="bold" fill="#231f20" textLength="10.57" lengthAdjust="spacingAndGlyphs">1</text>
<text x="832.47" y="1877.5" font-size="19" font-weight="bold" fill="#231f20" textLength="10.57" lengthAdjust="spacingAndGlyphs">2</text>
<text x="912.54" y="1877.5" font-size="19" font-weight="bold" fill="#231f20" textLength="10.57" lengthAdjust="spacingAndGlyphs">3</text>
<text x="992.32" y="1877.5" font-size="19" font-weight="bold" fill="#231f20" textLength="10.57" lengthAdjust="spacingAndGlyphs">4</text>
<text x="1071.69" y="1877.5" font-size="19" font-weight="bold" fill="#231f20" textLength="10.57" lengthAdjust="spacingAndGlyphs">5</text>
<text x="871.53" y="1915" font-size="27" font-weight="normal" fill="#231f20" textLength="96.62" lengthAdjust="spacingAndGlyphs">HCT116</text>
<text transform="translate(662.5,1820.1) rotate(-90)" x="0" y="0" font-size="22" font-weight="normal" fill="#231f20" textLength="182.64" lengthAdjust="spacingAndGlyphs">Cell viability(OD450)</text>
<line x1="1294" y1="1486.7" x2="1323.3" y2="1486.7" stroke="#e2483a" stroke-width="3" stroke-linecap="butt"/>
<line x1="1294" y1="1512.7" x2="1323.3" y2="1512.7" stroke="#3a4e9a" stroke-width="3" stroke-linecap="butt"/>
<line x1="1294" y1="1539" x2="1323.3" y2="1539" stroke="#5a9aae" stroke-width="3" stroke-linecap="butt"/>
<line x1="1294" y1="1567.3" x2="1323.3" y2="1567.3" stroke="#b4b4b4" stroke-width="3" stroke-linecap="butt"/>
<text x="1337.71" y="1494.3" font-size="22.5" font-weight="normal" fill="#231f20" textLength="89.25" lengthAdjust="spacingAndGlyphs">scramble</text>
<text x="1337.7" y="1520" font-size="22.5" font-weight="normal" fill="#231f20" textLength="103.36" lengthAdjust="spacingAndGlyphs">siZFAS1-1</text>
<text x="1337.71" y="1546.7" font-size="22.5" font-weight="normal" fill="#231f20" textLength="258.1" lengthAdjust="spacingAndGlyphs">siZFAS1-1+antagomiR-NC</text>
<text x="1337.71" y="1575" font-size="22.5" font-weight="normal" fill="#231f20" textLength="296.48" lengthAdjust="spacingAndGlyphs">siZFAS1-1+antagomiR-150-5p</text>
<line x1="1291.7" y1="1586.8" x2="1291.7" y2="1848.2" stroke="#1c1512" stroke-width="3" stroke-linecap="butt"/>
<line x1="1290.2" y1="1846.7" x2="1690" y2="1846.7" stroke="#1c1512" stroke-width="3" stroke-linecap="butt"/>
<line x1="1283.7" y1="1846.7" x2="1291.7" y2="1846.7" stroke="#1c1512" stroke-width="3" stroke-linecap="butt"/>
<line x1="1283.7" y1="1795.02" x2="1291.7" y2="1795.02" stroke="#1c1512" stroke-width="3" stroke-linecap="butt"/>
<line x1="1283.7" y1="1743.34" x2="1291.7" y2="1743.34" stroke="#1c1512" stroke-width="3" stroke-linecap="butt"/>
<line x1="1283.7" y1="1691.66" x2="1291.7" y2="1691.66" stroke="#1c1512" stroke-width="3" stroke-linecap="butt"/>
<line x1="1283.7" y1="1639.98" x2="1291.7" y2="1639.98" stroke="#1c1512" stroke-width="3" stroke-linecap="butt"/>
<line x1="1283.7" y1="1588.3" x2="1291.7" y2="1588.3" stroke="#1c1512" stroke-width="3" stroke-linecap="butt"/>
<line x1="1330.7" y1="1846.7" x2="1330.7" y2="1854.7" stroke="#1c1512" stroke-width="3" stroke-linecap="butt"/>
<line x1="1411.7" y1="1846.7" x2="1411.7" y2="1854.7" stroke="#1c1512" stroke-width="3" stroke-linecap="butt"/>
<line x1="1490" y1="1846.7" x2="1490" y2="1854.7" stroke="#1c1512" stroke-width="3" stroke-linecap="butt"/>
<line x1="1570.7" y1="1846.7" x2="1570.7" y2="1854.7" stroke="#1c1512" stroke-width="3" stroke-linecap="butt"/>
<line x1="1649.3" y1="1846.7" x2="1649.3" y2="1854.7" stroke="#1c1512" stroke-width="3" stroke-linecap="butt"/>
<polyline points="1330.7,1788.56 1411.7,1773.06 1490,1754.97 1570.7,1730.42 1649.3,1704.58" fill="none" stroke="#5a9aae" stroke-width="3.1" stroke-linejoin="round"/>
<polyline points="1330.7,1788.56 1411.7,1762.72 1490,1736.88 1570.7,1687.78 1649.3,1646.44" fill="none" stroke="#b4b4b4" stroke-width="3.1" stroke-linejoin="round"/>
<line x1="1330.7" y1="1778.22" x2="1330.7" y2="1798.9" stroke="#b4b4b4" stroke-width="2.6" stroke-linecap="butt"/>
<line x1="1327.7" y1="1778.22" x2="1333.7" y2="1778.22" stroke="#b4b4b4" stroke-width="2.6" stroke-linecap="butt"/>
<line x1="1327.7" y1="1798.9" x2="1333.7" y2="1798.9" stroke="#b4b4b4" stroke-width="2.6" stroke-linecap="butt"/>
<line x1="1570.7" y1="1674.86" x2="1570.7" y2="1700.7" stroke="#b4b4b4" stroke-width="2.6" stroke-linecap="butt"/>
<line x1="1567.7" y1="1674.86" x2="1573.7" y2="1674.86" stroke="#b4b4b4" stroke-width="2.6" stroke-linecap="butt"/>
<line x1="1567.7" y1="1700.7" x2="1573.7" y2="1700.7" stroke="#b4b4b4" stroke-width="2.6" stroke-linecap="butt"/>
<line x1="1649.3" y1="1636.1" x2="1649.3" y2="1656.78" stroke="#b4b4b4" stroke-width="2.6" stroke-linecap="butt"/>
<line x1="1646.3" y1="1636.1" x2="1652.3" y2="1636.1" stroke="#b4b4b4" stroke-width="2.6" stroke-linecap="butt"/>
<line x1="1646.3" y1="1656.78" x2="1652.3" y2="1656.78" stroke="#b4b4b4" stroke-width="2.6" stroke-linecap="butt"/>
<polyline points="1330.7,1788.56 1411.7,1749.8 1490,1725.25 1570.7,1682.62 1649.3,1634.81" fill="none" stroke="#e2483a" stroke-width="3.1" stroke-linejoin="round"/>
<line x1="1330.7" y1="1780.81" x2="1330.7" y2="1796.31" stroke="#e2483a" stroke-width="2.6" stroke-linecap="butt"/>
<line x1="1327.7" y1="1780.81" x2="1333.7" y2="1780.81" stroke="#e2483a" stroke-width="2.6" stroke-linecap="butt"/>
<line x1="1327.7" y1="1796.31" x2="1333.7" y2="1796.31" stroke="#e2483a" stroke-width="2.6" stroke-linecap="butt"/>
<line x1="1411.7" y1="1739.46" x2="1411.7" y2="1760.14" stroke="#e2483a" stroke-width="2.6" stroke-linecap="butt"/>
<line x1="1408.7" y1="1739.46" x2="1414.7" y2="1739.46" stroke="#e2483a" stroke-width="2.6" stroke-linecap="butt"/>
<line x1="1408.7" y1="1760.14" x2="1414.7" y2="1760.14" stroke="#e2483a" stroke-width="2.6" stroke-linecap="butt"/>
<line x1="1490" y1="1711.04" x2="1490" y2="1739.46" stroke="#e2483a" stroke-width="2.6" stroke-linecap="butt"/>
<line x1="1487" y1="1711.04" x2="1493" y2="1711.04" stroke="#e2483a" stroke-width="2.6" stroke-linecap="butt"/>
<line x1="1487" y1="1739.46" x2="1493" y2="1739.46" stroke="#e2483a" stroke-width="2.6" stroke-linecap="butt"/>
<line x1="1570.7" y1="1670.99" x2="1570.7" y2="1694.24" stroke="#e2483a" stroke-width="2.6" stroke-linecap="butt"/>
<line x1="1567.7" y1="1670.99" x2="1573.7" y2="1670.99" stroke="#e2483a" stroke-width="2.6" stroke-linecap="butt"/>
<line x1="1567.7" y1="1694.24" x2="1573.7" y2="1694.24" stroke="#e2483a" stroke-width="2.6" stroke-linecap="butt"/>
<line x1="1649.3" y1="1616.72" x2="1649.3" y2="1652.9" stroke="#e2483a" stroke-width="2.6" stroke-linecap="butt"/>
<line x1="1646.3" y1="1616.72" x2="1652.3" y2="1616.72" stroke="#e2483a" stroke-width="2.6" stroke-linecap="butt"/>
<line x1="1646.3" y1="1652.9" x2="1652.3" y2="1652.9" stroke="#e2483a" stroke-width="2.6" stroke-linecap="butt"/>
<polyline points="1330.7,1788.56 1411.7,1773.06 1490,1754.97 1570.7,1730.42 1649.3,1704.58" fill="none" stroke="#3a4e9a" stroke-width="3.1" stroke-linejoin="round"/>
<line x1="1330.7" y1="1778.22" x2="1330.7" y2="1798.9" stroke="#3a4e9a" stroke-width="2.6" stroke-linecap="butt"/>
<line x1="1327.7" y1="1778.22" x2="1333.7" y2="1778.22" stroke="#3a4e9a" stroke-width="2.6" stroke-linecap="butt"/>
<line x1="1327.7" y1="1798.9" x2="1333.7" y2="1798.9" stroke="#3a4e9a" stroke-width="2.6" stroke-linecap="butt"/>
<line x1="1411.7" y1="1762.72" x2="1411.7" y2="1783.39" stroke="#3a4e9a" stroke-width="2.6" stroke-linecap="butt"/>
<line x1="1408.7" y1="1762.72" x2="1414.7" y2="1762.72" stroke="#3a4e9a" stroke-width="2.6" stroke-linecap="butt"/>
<line x1="1408.7" y1="1783.39" x2="1414.7" y2="1783.39" stroke="#3a4e9a" stroke-width="2.6" stroke-linecap="butt"/>
<line x1="1490" y1="1743.34" x2="1490" y2="1766.6" stroke="#3a4e9a" stroke-width="2.6" stroke-linecap="butt"/>
<line x1="1487" y1="1743.34" x2="1493" y2="1743.34" stroke="#3a4e9a" stroke-width="2.6" stroke-linecap="butt"/>
<line x1="1487" y1="1766.6" x2="1493" y2="1766.6" stroke="#3a4e9a" stroke-width="2.6" stroke-linecap="butt"/>
<line x1="1570.7" y1="1717.5" x2="1570.7" y2="1743.34" stroke="#3a4e9a" stroke-width="2.6" stroke-linecap="butt"/>
<line x1="1567.7" y1="1717.5" x2="1573.7" y2="1717.5" stroke="#3a4e9a" stroke-width="2.6" stroke-linecap="butt"/>
<line x1="1567.7" y1="1743.34" x2="1573.7" y2="1743.34" stroke="#3a4e9a" stroke-width="2.6" stroke-linecap="butt"/>
<line x1="1649.3" y1="1689.08" x2="1649.3" y2="1720.08" stroke="#3a4e9a" stroke-width="2.6" stroke-linecap="butt"/>
<line x1="1646.3" y1="1689.08" x2="1652.3" y2="1689.08" stroke="#3a4e9a" stroke-width="2.6" stroke-linecap="butt"/>
<line x1="1646.3" y1="1720.08" x2="1652.3" y2="1720.08" stroke="#3a4e9a" stroke-width="2.6" stroke-linecap="butt"/>
<circle cx="1411.7" cy="1714.92" r="2.2" fill="#2a2420"/>
<circle cx="1411.7" cy="1801.48" r="2.2" fill="#2a2420"/>
<circle cx="1490" cy="1696.83" r="2.2" fill="#2a2420"/>
<circle cx="1490" cy="1787.27" r="2.2" fill="#2a2420"/>
<circle cx="1570.7" cy="1641.27" r="2.2" fill="#2a2420"/>
<circle cx="1570.7" cy="1760.14" r="2.2" fill="#2a2420"/>
<circle cx="1649.3" cy="1601.22" r="2.2" fill="#2a2420"/>
<circle cx="1649.3" cy="1739.46" r="2.2" fill="#2a2420"/>
<text x="1252.94" y="1852.98" font-size="18" font-weight="bold" fill="#231f20" textLength="28.28" lengthAdjust="spacingAndGlyphs">0.0</text>
<text x="1252.92" y="1801.3" font-size="18" font-weight="bold" fill="#231f20" textLength="28.28" lengthAdjust="spacingAndGlyphs">0.2</text>
<text x="1252.23" y="1749.62" font-size="18" font-weight="bold" fill="#231f20" textLength="28.28" lengthAdjust="spacingAndGlyphs">0.4</text>
<text x="1252.84" y="1697.94" font-size="18" font-weight="bold" fill="#231f20" textLength="28.28" lengthAdjust="spacingAndGlyphs">0.6</text>
<text x="1252.74" y="1646.26" font-size="18" font-weight="bold" fill="#231f20" textLength="28.28" lengthAdjust="spacingAndGlyphs">0.8</text>
<text x="1252.94" y="1594.58" font-size="18" font-weight="bold" fill="#231f20" textLength="28.28" lengthAdjust="spacingAndGlyphs">1.0</text>
<text x="1325.15" y="1872.3" font-size="20" font-weight="bold" fill="#231f20" textLength="11.12" lengthAdjust="spacingAndGlyphs">0</text>
<text x="1394.47" y="1872.3" font-size="20" font-weight="bold" fill="#231f20" textLength="34.46" lengthAdjust="spacingAndGlyphs">12h</text>
<text x="1473.05" y="1872.3" font-size="20" font-weight="bold" fill="#231f20" textLength="34.46" lengthAdjust="spacingAndGlyphs">24h</text>
<text x="1553.94" y="1872.3" font-size="20" font-weight="bold" fill="#231f20" textLength="34.46" lengthAdjust="spacingAndGlyphs">48h</text>
<text x="1632.27" y="1872.3" font-size="20" font-weight="bold" fill="#231f20" textLength="34.46" lengthAdjust="spacingAndGlyphs">72h</text>
<text x="1461.21" y="1901.7" font-size="22" font-weight="bold" fill="#231f20" textLength="58.77" lengthAdjust="spacingAndGlyphs">HCT8</text>
<text transform="translate(1225,1816.55) rotate(-90)" x="0" y="0" font-size="22" font-weight="normal" fill="#231f20" textLength="192.26" lengthAdjust="spacingAndGlyphs">Cell viability(OD450)</text>
<text x="7.51" y="2023.3" font-size="50.14" font-weight="normal" fill="#231f20" textLength="26.4" lengthAdjust="spacingAndGlyphs" style="stroke:#fff;stroke-width:1.1px">J</text>
<rect x="134.8" y="2012.2" width="28.7" height="15.3" fill="#dc2a1f" stroke="#1c1512" stroke-width="3"/>
<rect x="134.8" y="2044.8" width="28.7" height="13.7" fill="#2b4aa6" stroke="#1c1512" stroke-width="3"/>
<rect x="134.8" y="2076.5" width="28.7" height="15.3" fill="#2a9fb5" stroke="#1c1512" stroke-width="3"/>
<rect x="134.8" y="2108.2" width="28.7" height="14.6" fill="#a6a6ab" stroke="#1c1512" stroke-width="3"/>
<text x="181.09" y="2026.7" font-size="22.5" font-weight="normal" fill="#231f20" textLength="92.36" lengthAdjust="spacingAndGlyphs">scramble</text>
<text x="181.09" y="2059" font-size="22.5" font-weight="normal" fill="#231f20" textLength="106.28" lengthAdjust="spacingAndGlyphs">siZFAS1-1</text>
<text x="181.09" y="2090.7" font-size="22.5" font-weight="normal" fill="#231f20" textLength="270.14" lengthAdjust="spacingAndGlyphs">siZFAS1-1+antagomiR-NC</text>
<text x="181.09" y="2123.3" font-size="22.5" font-weight="normal" fill="#231f20" textLength="308.14" lengthAdjust="spacingAndGlyphs">siZFAS1-1+antagomiR-150-5p</text>
<line x1="131" y1="2131.8" x2="131" y2="2414.2" stroke="#1c1512" stroke-width="3" stroke-linecap="butt"/>
<line x1="129.5" y1="2412.7" x2="548.3" y2="2412.7" stroke="#1c1512" stroke-width="3" stroke-linecap="butt"/>
<line x1="123" y1="2412.7" x2="131" y2="2412.7" stroke="#1c1512" stroke-width="3" stroke-linecap="butt"/>
<line x1="123" y1="2356.82" x2="131" y2="2356.82" stroke="#1c1512" stroke-width="3" stroke-linecap="butt"/>
<line x1="123" y1="2300.94" x2="131" y2="2300.94" stroke="#1c1512" stroke-width="3" stroke-linecap="butt"/>
<line x1="123" y1="2245.06" x2="131" y2="2245.06" stroke="#1c1512" stroke-width="3" stroke-linecap="butt"/>
<line x1="123" y1="2189.18" x2="131" y2="2189.18" stroke="#1c1512" stroke-width="3" stroke-linecap="butt"/>
<line x1="123" y1="2133.3" x2="131" y2="2133.3" stroke="#1c1512" stroke-width="3" stroke-linecap="butt"/>
<line x1="165" y1="2412.7" x2="165" y2="2420.7" stroke="#1c1512" stroke-width="3" stroke-linecap="butt"/>
<line x1="235" y1="2412.7" x2="235" y2="2420.7" stroke="#1c1512" stroke-width="3" stroke-linecap="butt"/>
<line x1="303.3" y1="2412.7" x2="303.3" y2="2420.7" stroke="#1c1512" stroke-width="3" stroke-linecap="butt"/>
<line x1="370" y1="2412.7" x2="370" y2="2420.7" stroke="#1c1512" stroke-width="3" stroke-linecap="butt"/>
<line x1="438.3" y1="2412.7" x2="438.3" y2="2420.7" stroke="#1c1512" stroke-width="3" stroke-linecap="butt"/>
<line x1="506.7" y1="2412.7" x2="506.7" y2="2420.7" stroke="#1c1512" stroke-width="3" stroke-linecap="butt"/>
<line x1="211.5" y1="2314.91" x2="211.5" y2="2328.68" stroke="#1c1512" stroke-width="2.4" stroke-linecap="butt"/>
<line x1="207" y1="2314.91" x2="216" y2="2314.91" stroke="#1c1512" stroke-width="2.4" stroke-linecap="butt"/>
<rect x="206.9" y="2328.88" width="9.2" height="83.82" fill="#dc2a1f" stroke="#1c1512" stroke-width="2.4"/>
<line x1="227" y1="2347.04" x2="227" y2="2356.62" stroke="#1c1512" stroke-width="2.4" stroke-linecap="butt"/>
<line x1="222.5" y1="2347.04" x2="231.5" y2="2347.04" stroke="#1c1512" stroke-width="2.4" stroke-linecap="butt"/>
<rect x="222.9" y="2356.82" width="8.2" height="55.88" fill="#2b4aa6" stroke="#1c1512" stroke-width="2.4"/>
<line x1="242.2" y1="2348.44" x2="242.2" y2="2359.41" stroke="#1c1512" stroke-width="2.4" stroke-linecap="butt"/>
<line x1="237.7" y1="2348.44" x2="246.7" y2="2348.44" stroke="#1c1512" stroke-width="2.4" stroke-linecap="butt"/>
<rect x="237.9" y="2359.61" width="8.6" height="53.09" fill="#2a9fb5" stroke="#1c1512" stroke-width="2.4"/>
<line x1="256.2" y1="2314.91" x2="256.2" y2="2330.08" stroke="#1c1512" stroke-width="2.4" stroke-linecap="butt"/>
<line x1="251.7" y1="2314.91" x2="260.7" y2="2314.91" stroke="#1c1512" stroke-width="2.4" stroke-linecap="butt"/>
<rect x="251.9" y="2330.28" width="8.6" height="82.42" fill="#a6a6ab" stroke="#1c1512" stroke-width="2.4"/>
<line x1="280.35" y1="2256.24" x2="280.35" y2="2267.21" stroke="#1c1512" stroke-width="2.4" stroke-linecap="butt"/>
<line x1="275.85" y1="2256.24" x2="284.85" y2="2256.24" stroke="#1c1512" stroke-width="2.4" stroke-linecap="butt"/>
<rect x="276.2" y="2267.41" width="8.3" height="145.29" fill="#dc2a1f" stroke="#1c1512" stroke-width="2.4"/>
<line x1="295" y1="2323.29" x2="295" y2="2335.66" stroke="#1c1512" stroke-width="2.4" stroke-linecap="butt"/>
<line x1="290.5" y1="2323.29" x2="299.5" y2="2323.29" stroke="#1c1512" stroke-width="2.4" stroke-linecap="butt"/>
<rect x="291.2" y="2335.86" width="7.6" height="76.83" fill="#2b4aa6" stroke="#1c1512" stroke-width="2.4"/>
<line x1="310" y1="2317.7" x2="310" y2="2334.27" stroke="#1c1512" stroke-width="2.4" stroke-linecap="butt"/>
<line x1="305.5" y1="2317.7" x2="314.5" y2="2317.7" stroke="#1c1512" stroke-width="2.4" stroke-linecap="butt"/>
<rect x="306.2" y="2334.47" width="7.6" height="78.23" fill="#2a9fb5" stroke="#1c1512" stroke-width="2.4"/>
<line x1="324.65" y1="2264.62" x2="324.65" y2="2276.99" stroke="#1c1512" stroke-width="2.4" stroke-linecap="butt"/>
<line x1="320.15" y1="2264.62" x2="329.15" y2="2264.62" stroke="#1c1512" stroke-width="2.4" stroke-linecap="butt"/>
<rect x="320.5" y="2277.19" width="8.3" height="135.51" fill="#a6a6ab" stroke="#1c1512" stroke-width="2.4"/>
<line x1="417.2" y1="2307.93" x2="417.2" y2="2321.7" stroke="#1c1512" stroke-width="2.4" stroke-linecap="butt"/>
<line x1="412.7" y1="2307.93" x2="421.7" y2="2307.93" stroke="#1c1512" stroke-width="2.4" stroke-linecap="butt"/>
<rect x="412.9" y="2321.89" width="8.6" height="90.8" fill="#dc2a1f" stroke="#1c1512" stroke-width="2.4"/>
<line x1="432" y1="2348.44" x2="432" y2="2358.02" stroke="#1c1512" stroke-width="2.4" stroke-linecap="butt"/>
<line x1="427.5" y1="2348.44" x2="436.5" y2="2348.44" stroke="#1c1512" stroke-width="2.4" stroke-linecap="butt"/>
<rect x="427.9" y="2358.22" width="8.2" height="54.48" fill="#2b4aa6" stroke="#1c1512" stroke-width="2.4"/>
<line x1="447" y1="2344.25" x2="447" y2="2356.62" stroke="#1c1512" stroke-width="2.4" stroke-linecap="butt"/>
<line x1="442.5" y1="2344.25" x2="451.5" y2="2344.25" stroke="#1c1512" stroke-width="2.4" stroke-linecap="butt"/>
<rect x="442.9" y="2356.82" width="8.2" height="55.88" fill="#2a9fb5" stroke="#1c1512" stroke-width="2.4"/>
<line x1="461.35" y1="2310.72" x2="461.35" y2="2324.49" stroke="#1c1512" stroke-width="2.4" stroke-linecap="butt"/>
<line x1="456.85" y1="2310.72" x2="465.85" y2="2310.72" stroke="#1c1512" stroke-width="2.4" stroke-linecap="butt"/>
<rect x="457.2" y="2324.69" width="8.3" height="88.01" fill="#a6a6ab" stroke="#1c1512" stroke-width="2.4"/>
<line x1="485.5" y1="2254.84" x2="485.5" y2="2267.21" stroke="#1c1512" stroke-width="2.4" stroke-linecap="butt"/>
<line x1="481" y1="2254.84" x2="490" y2="2254.84" stroke="#1c1512" stroke-width="2.4" stroke-linecap="butt"/>
<rect x="481.2" y="2267.41" width="8.6" height="145.29" fill="#dc2a1f" stroke="#1c1512" stroke-width="2.4"/>
<line x1="500.35" y1="2323.29" x2="500.35" y2="2335.66" stroke="#1c1512" stroke-width="2.4" stroke-linecap="butt"/>
<line x1="495.85" y1="2323.29" x2="504.85" y2="2323.29" stroke="#1c1512" stroke-width="2.4" stroke-linecap="butt"/>
<rect x="496.2" y="2335.86" width="8.3" height="76.83" fill="#2b4aa6" stroke="#1c1512" stroke-width="2.4"/>
<line x1="515.35" y1="2319.1" x2="515.35" y2="2334.27" stroke="#1c1512" stroke-width="2.4" stroke-linecap="butt"/>
<line x1="510.85" y1="2319.1" x2="519.85" y2="2319.1" stroke="#1c1512" stroke-width="2.4" stroke-linecap="butt"/>
<rect x="511.2" y="2334.47" width="8.3" height="78.23" fill="#2a9fb5" stroke="#1c1512" stroke-width="2.4"/>
<line x1="530.35" y1="2260.43" x2="530.35" y2="2272.8" stroke="#1c1512" stroke-width="2.4" stroke-linecap="butt"/>
<line x1="525.85" y1="2260.43" x2="534.85" y2="2260.43" stroke="#1c1512" stroke-width="2.4" stroke-linecap="butt"/>
<rect x="526.2" y="2273" width="8.3" height="139.7" fill="#a6a6ab" stroke="#1c1512" stroke-width="2.4"/>
<line x1="211" y1="2304.3" x2="233.3" y2="2304.3" stroke="#1c1512" stroke-width="3" stroke-linecap="round"/>
<ellipse cx="225" cy="2292.7" rx="2.44" ry="2.1" fill="#1c1512"/>
<line x1="235" y1="2293.3" x2="261.7" y2="2293.3" stroke="#1c1512" stroke-width="3" stroke-linecap="round"/>
<ellipse cx="250" cy="2282.7" rx="2.44" ry="2.1" fill="#1c1512"/>
<line x1="280" y1="2246" x2="305.7" y2="2246" stroke="#1c1512" stroke-width="3" stroke-linecap="round"/>
<ellipse cx="295" cy="2230.7" rx="2.44" ry="2.1" fill="#1c1512"/>
<line x1="303.3" y1="2220" x2="333.3" y2="2220" stroke="#1c1512" stroke-width="3" stroke-linecap="round"/>
<ellipse cx="320" cy="2206.7" rx="2.44" ry="2.1" fill="#1c1512"/>
<line x1="418.3" y1="2299" x2="446" y2="2299" stroke="#1c1512" stroke-width="3" stroke-linecap="round"/>
<ellipse cx="433.3" cy="2285" rx="2.44" ry="2.1" fill="#1c1512"/>
<line x1="440" y1="2290" x2="466" y2="2290" stroke="#1c1512" stroke-width="3" stroke-linecap="round"/>
<ellipse cx="456" cy="2276.7" rx="2.44" ry="2.1" fill="#1c1512"/>
<line x1="485" y1="2249.3" x2="511.7" y2="2249.3" stroke="#1c1512" stroke-width="3" stroke-linecap="round"/>
<ellipse cx="502.7" cy="2236.7" rx="2.44" ry="2.1" fill="#1c1512"/>
<line x1="510" y1="2242.7" x2="546.7" y2="2242.7" stroke="#1c1512" stroke-width="3" stroke-linecap="round"/>
<ellipse cx="529.3" cy="2229.3" rx="2.44" ry="2.1" fill="#1c1512"/>
<text x="107.4" y="2420.38" font-size="22" font-weight="bold" fill="#231f20" textLength="11.75" lengthAdjust="spacingAndGlyphs">0</text>
<text x="95.66" y="2364.5" font-size="22" font-weight="bold" fill="#231f20" textLength="23.49" lengthAdjust="spacingAndGlyphs">20</text>
<text x="95.66" y="2308.62" font-size="22" font-weight="bold" fill="#231f20" textLength="23.49" lengthAdjust="spacingAndGlyphs">40</text>
<text x="95.66" y="2252.74" font-size="22" font-weight="bold" fill="#231f20" textLength="23.49" lengthAdjust="spacingAndGlyphs">60</text>
<text x="95.66" y="2196.86" font-size="22" font-weight="bold" fill="#231f20" textLength="23.49" lengthAdjust="spacingAndGlyphs">80</text>
<text x="83.92" y="2140.98" font-size="22" font-weight="bold" fill="#231f20" textLength="35.24" lengthAdjust="spacingAndGlyphs">100</text>
<text x="159.17" y="2441.7" font-size="21" font-weight="bold" fill="#231f20" textLength="11.68" lengthAdjust="spacingAndGlyphs">0</text>
<text x="217.2" y="2441.7" font-size="21" font-weight="bold" fill="#231f20" textLength="36.19" lengthAdjust="spacingAndGlyphs">24h</text>
<text x="285.7" y="2441.7" font-size="21" font-weight="bold" fill="#231f20" textLength="36.19" lengthAdjust="spacingAndGlyphs">48h</text>
<text x="364.17" y="2441.7" font-size="21" font-weight="bold" fill="#231f20" textLength="11.68" lengthAdjust="spacingAndGlyphs">0</text>
<text x="420.5" y="2441.7" font-size="21" font-weight="bold" fill="#231f20" textLength="36.19" lengthAdjust="spacingAndGlyphs">24h</text>
<text x="489.1" y="2441.7" font-size="21" font-weight="bold" fill="#231f20" textLength="36.19" lengthAdjust="spacingAndGlyphs">48h</text>
<line x1="133.3" y1="2459.3" x2="340" y2="2459.3" stroke="#1c1512" stroke-width="3" stroke-linecap="butt"/>
<line x1="351" y1="2459.3" x2="549.3" y2="2459.3" stroke="#1c1512" stroke-width="3" stroke-linecap="butt"/>
<text x="192.67" y="2493.3" font-size="29" font-weight="normal" fill="#231f20" textLength="103.56" lengthAdjust="spacingAndGlyphs">HCT116</text>
<text x="413.79" y="2493.3" font-size="29" font-weight="normal" fill="#231f20" textLength="70.38" lengthAdjust="spacingAndGlyphs">HCT8</text>
<text transform="translate(73.5,2382.59) rotate(-90)" x="0" y="0" font-size="21.5" font-weight="normal" fill="#231f20" textLength="219.26" lengthAdjust="spacingAndGlyphs">Wound enclosure(%)</text>
<text x="638.91" y="2025" font-size="53.34" font-weight="normal" fill="#231f20" textLength="35.67" lengthAdjust="spacingAndGlyphs" style="stroke:#fff;stroke-width:1.1px">K</text>
<rect x="718.2" y="2013.8" width="28.6" height="14" fill="#dc2a1f" stroke="#1c1512" stroke-width="3"/>
<rect x="718.2" y="2043.8" width="28.6" height="13.7" fill="#2b4aa6" stroke="#1c1512" stroke-width="3"/>
<rect x="718.2" y="2073.8" width="28.6" height="14" fill="#2a9fb5" stroke="#1c1512" stroke-width="3"/>
<rect x="718.2" y="2104.2" width="28.6" height="14.3" fill="#a6a6ab" stroke="#1c1512" stroke-width="3"/>
<text x="763.68" y="2027.7" font-size="22.5" font-weight="normal" fill="#231f20" textLength="92.6" lengthAdjust="spacingAndGlyphs">scramble</text>
<text x="763.68" y="2057.7" font-size="22.5" font-weight="normal" fill="#231f20" textLength="106.55" lengthAdjust="spacingAndGlyphs">siZFAS1-1</text>
<text x="763.68" y="2087.7" font-size="22.5" font-weight="normal" fill="#231f20" textLength="270.84" lengthAdjust="spacingAndGlyphs">siZFAS1-1+antagomiR-NC</text>
<text x="763.68" y="2117.7" font-size="22.5" font-weight="normal" fill="#231f20" textLength="308.95" lengthAdjust="spacingAndGlyphs">siZFAS1-1+antagomiR-150-5p</text>
<line x1="719" y1="2194.8" x2="719" y2="2462" stroke="#1c1512" stroke-width="3" stroke-linecap="butt"/>
<line x1="717.5" y1="2460.5" x2="1137.7" y2="2460.5" stroke="#1c1512" stroke-width="3" stroke-linecap="butt"/>
<line x1="711" y1="2460.5" x2="719" y2="2460.5" stroke="#1c1512" stroke-width="3" stroke-linecap="butt"/>
<line x1="711" y1="2372.43" x2="719" y2="2372.43" stroke="#1c1512" stroke-width="3" stroke-linecap="butt"/>
<line x1="711" y1="2284.37" x2="719" y2="2284.37" stroke="#1c1512" stroke-width="3" stroke-linecap="butt"/>
<line x1="711" y1="2196.3" x2="719" y2="2196.3" stroke="#1c1512" stroke-width="3" stroke-linecap="butt"/>
<line x1="821.7" y1="2460.5" x2="821.7" y2="2468.5" stroke="#1c1512" stroke-width="3" stroke-linecap="butt"/>
<line x1="1030.7" y1="2460.5" x2="1030.7" y2="2468.5" stroke="#1c1512" stroke-width="3" stroke-linecap="butt"/>
<line x1="755.35" y1="2210.39" x2="755.35" y2="2248.64" stroke="#1c1512" stroke-width="3" stroke-linecap="butt"/>
<line x1="746.35" y1="2210.39" x2="764.35" y2="2210.39" stroke="#1c1512" stroke-width="3" stroke-linecap="butt"/>
<rect x="741.5" y="2249.14" width="27.7" height="211.36" fill="#dc2a1f" stroke="#1c1512" stroke-width="3"/>
<line x1="799.15" y1="2395.33" x2="799.15" y2="2408.92" stroke="#1c1512" stroke-width="3" stroke-linecap="butt"/>
<line x1="790.15" y1="2395.33" x2="808.15" y2="2395.33" stroke="#1c1512" stroke-width="3" stroke-linecap="butt"/>
<rect x="784.8" y="2409.42" width="28.7" height="51.08" fill="#2b4aa6" stroke="#1c1512" stroke-width="3"/>
<line x1="844.85" y1="2398.85" x2="844.85" y2="2412.44" stroke="#1c1512" stroke-width="3" stroke-linecap="butt"/>
<line x1="835.85" y1="2398.85" x2="853.85" y2="2398.85" stroke="#1c1512" stroke-width="3" stroke-linecap="butt"/>
<rect x="830.5" y="2412.94" width="28.7" height="47.56" fill="#2a9fb5" stroke="#1c1512" stroke-width="3"/>
<line x1="890.15" y1="2242.09" x2="890.15" y2="2268.01" stroke="#1c1512" stroke-width="3" stroke-linecap="butt"/>
<line x1="881.15" y1="2242.09" x2="899.15" y2="2242.09" stroke="#1c1512" stroke-width="3" stroke-linecap="butt"/>
<rect x="877.5" y="2268.51" width="25.3" height="191.99" fill="#a6a6ab" stroke="#1c1512" stroke-width="3"/>
<line x1="963.65" y1="2210.39" x2="963.65" y2="2245.12" stroke="#1c1512" stroke-width="3" stroke-linecap="butt"/>
<line x1="954.65" y1="2210.39" x2="972.65" y2="2210.39" stroke="#1c1512" stroke-width="3" stroke-linecap="butt"/>
<rect x="949.8" y="2245.62" width="27.7" height="214.88" fill="#dc2a1f" stroke="#1c1512" stroke-width="3"/>
<line x1="1008.15" y1="2393.57" x2="1008.15" y2="2408.92" stroke="#1c1512" stroke-width="3" stroke-linecap="butt"/>
<line x1="999.15" y1="2393.57" x2="1017.15" y2="2393.57" stroke="#1c1512" stroke-width="3" stroke-linecap="butt"/>
<rect x="993.8" y="2409.42" width="28.7" height="51.08" fill="#2b4aa6" stroke="#1c1512" stroke-width="3"/>
<line x1="1053.3" y1="2400.61" x2="1053.3" y2="2417.73" stroke="#1c1512" stroke-width="3" stroke-linecap="butt"/>
<line x1="1044.3" y1="2400.61" x2="1062.3" y2="2400.61" stroke="#1c1512" stroke-width="3" stroke-linecap="butt"/>
<rect x="1039.8" y="2418.23" width="27" height="42.27" fill="#2a9fb5" stroke="#1c1512" stroke-width="3"/>
<line x1="1099.15" y1="2222.72" x2="1099.15" y2="2250.4" stroke="#1c1512" stroke-width="3" stroke-linecap="butt"/>
<line x1="1090.15" y1="2222.72" x2="1108.15" y2="2222.72" stroke="#1c1512" stroke-width="3" stroke-linecap="butt"/>
<rect x="1086.5" y="2250.9" width="25.3" height="209.6" fill="#a6a6ab" stroke="#1c1512" stroke-width="3"/>
<line x1="755" y1="2194.2" x2="805.6" y2="2194.2" stroke="#1c1512" stroke-width="3" stroke-linecap="round"/>
<ellipse cx="779.4" cy="2177.8" rx="2.67" ry="2.3" fill="#1c1512"/>
<ellipse cx="786.6" cy="2177.8" rx="2.67" ry="2.3" fill="#1c1512"/>
<ellipse cx="793.8" cy="2177.8" rx="2.67" ry="2.3" fill="#1c1512"/>
<line x1="832.3" y1="2227.4" x2="884.3" y2="2227.4" stroke="#1c1512" stroke-width="3" stroke-linecap="round"/>
<ellipse cx="854.9" cy="2210.7" rx="2.67" ry="2.3" fill="#1c1512"/>
<ellipse cx="862.1" cy="2210.7" rx="2.67" ry="2.3" fill="#1c1512"/>
<ellipse cx="869.3" cy="2210.7" rx="2.67" ry="2.3" fill="#1c1512"/>
<line x1="966.7" y1="2190" x2="1023.3" y2="2190" stroke="#1c1512" stroke-width="3" stroke-linecap="round"/>
<ellipse cx="994.5" cy="2173.3" rx="2.67" ry="2.3" fill="#1c1512"/>
<ellipse cx="1001.7" cy="2173.3" rx="2.67" ry="2.3" fill="#1c1512"/>
<ellipse cx="1008.9" cy="2173.3" rx="2.67" ry="2.3" fill="#1c1512"/>
<line x1="1028.3" y1="2210.7" x2="1092.7" y2="2210.7" stroke="#1c1512" stroke-width="3" stroke-linecap="round"/>
<ellipse cx="1057.8" cy="2198.3" rx="2.67" ry="2.3" fill="#1c1512"/>
<ellipse cx="1065" cy="2198.3" rx="2.67" ry="2.3" fill="#1c1512"/>
<ellipse cx="1072.2" cy="2198.3" rx="2.67" ry="2.3" fill="#1c1512"/>
<text x="695.45" y="2466.78" font-size="18" font-weight="bold" fill="#231f20" textLength="11.91" lengthAdjust="spacingAndGlyphs">0</text>
<text x="683.54" y="2378.72" font-size="18" font-weight="bold" fill="#231f20" textLength="23.83" lengthAdjust="spacingAndGlyphs">50</text>
<text x="671.63" y="2290.65" font-size="18" font-weight="bold" fill="#231f20" textLength="35.74" lengthAdjust="spacingAndGlyphs">100</text>
<text x="671.63" y="2202.58" font-size="18" font-weight="bold" fill="#231f20" textLength="35.74" lengthAdjust="spacingAndGlyphs">150</text>
<text x="784.68" y="2485" font-size="20" font-weight="bold" fill="#231f20" textLength="73.53" lengthAdjust="spacingAndGlyphs">HCT116</text>
<text x="1001.56" y="2485" font-size="20" font-weight="bold" fill="#231f20" textLength="57.11" lengthAdjust="spacingAndGlyphs">HCT8</text>
<text transform="translate(661,2459.97) rotate(-90)" x="0" y="0" font-size="22" font-weight="normal" fill="#231f20" textLength="267.83" lengthAdjust="spacingAndGlyphs">The number of invaded cells</text>
<text x="1231.19" y="2024" font-size="53.78" font-weight="normal" fill="#231f20" textLength="29.26" lengthAdjust="spacingAndGlyphs" style="stroke:#fff;stroke-width:1.1px">L</text>
<rect x="1307.2" y="2010.5" width="29.6" height="13" fill="#e53f3a" stroke="#1c1512" stroke-width="3"/>
<rect x="1307.2" y="2041.5" width="29.6" height="13" fill="#2b4aa6" stroke="#1c1512" stroke-width="3"/>
<rect x="1307.2" y="2071.5" width="29.6" height="13" fill="#2a9fb5" stroke="#1c1512" stroke-width="3"/>
<rect x="1307.2" y="2102.5" width="29.6" height="12.7" fill="#a6a6ab" stroke="#1c1512" stroke-width="3"/>
<text x="1353.68" y="2023.3" font-size="22.5" font-weight="normal" fill="#231f20" textLength="93.59" lengthAdjust="spacingAndGlyphs">scramble</text>
<text x="1353.68" y="2054.3" font-size="22.5" font-weight="normal" fill="#231f20" textLength="107.7" lengthAdjust="spacingAndGlyphs">siZFAS1-1</text>
<text x="1353.68" y="2085" font-size="22.5" font-weight="normal" fill="#231f20" textLength="273.75" lengthAdjust="spacingAndGlyphs">siZFAS1-1+antagomiR-NC</text>
<text x="1353.68" y="2115" font-size="22.5" font-weight="normal" fill="#231f20" textLength="312.26" lengthAdjust="spacingAndGlyphs">siZFAS1-1+antagomiR-150-5p</text>
<line x1="1306" y1="2185.5" x2="1306" y2="2455" stroke="#1c1512" stroke-width="3" stroke-linecap="butt"/>
<line x1="1304.5" y1="2453.5" x2="1728.3" y2="2453.5" stroke="#1c1512" stroke-width="3" stroke-linecap="butt"/>
<line x1="1298" y1="2453.5" x2="1306" y2="2453.5" stroke="#1c1512" stroke-width="3" stroke-linecap="butt"/>
<line x1="1298" y1="2364.67" x2="1306" y2="2364.67" stroke="#1c1512" stroke-width="3" stroke-linecap="butt"/>
<line x1="1298" y1="2275.83" x2="1306" y2="2275.83" stroke="#1c1512" stroke-width="3" stroke-linecap="butt"/>
<line x1="1298" y1="2187" x2="1306" y2="2187" stroke="#1c1512" stroke-width="3" stroke-linecap="butt"/>
<line x1="1410.3" y1="2453.5" x2="1410.3" y2="2461.5" stroke="#1c1512" stroke-width="3" stroke-linecap="butt"/>
<line x1="1620.7" y1="2453.5" x2="1620.7" y2="2461.5" stroke="#1c1512" stroke-width="3" stroke-linecap="butt"/>
<line x1="1342.8" y1="2249.18" x2="1342.8" y2="2275.33" stroke="#1c1512" stroke-width="3" stroke-linecap="butt"/>
<line x1="1333.8" y1="2249.18" x2="1351.8" y2="2249.18" stroke="#1c1512" stroke-width="3" stroke-linecap="butt"/>
<rect x="1328.8" y="2275.83" width="28" height="177.67" fill="#e53f3a" stroke="#1c1512" stroke-width="3"/>
<line x1="1388.3" y1="2375.33" x2="1388.3" y2="2388.15" stroke="#1c1512" stroke-width="3" stroke-linecap="butt"/>
<line x1="1379.3" y1="2375.33" x2="1397.3" y2="2375.33" stroke="#1c1512" stroke-width="3" stroke-linecap="butt"/>
<rect x="1374.8" y="2388.65" width="27" height="64.85" fill="#2b4aa6" stroke="#1c1512" stroke-width="3"/>
<line x1="1433" y1="2371.77" x2="1433" y2="2388.15" stroke="#1c1512" stroke-width="3" stroke-linecap="butt"/>
<line x1="1424" y1="2371.77" x2="1442" y2="2371.77" stroke="#1c1512" stroke-width="3" stroke-linecap="butt"/>
<rect x="1419.2" y="2388.65" width="27.6" height="64.85" fill="#2a9fb5" stroke="#1c1512" stroke-width="3"/>
<line x1="1478.3" y1="2275.83" x2="1478.3" y2="2290.43" stroke="#1c1512" stroke-width="3" stroke-linecap="butt"/>
<line x1="1469.3" y1="2275.83" x2="1487.3" y2="2275.83" stroke="#1c1512" stroke-width="3" stroke-linecap="butt"/>
<rect x="1464.8" y="2290.93" width="27" height="162.57" fill="#a6a6ab" stroke="#1c1512" stroke-width="3"/>
<line x1="1553" y1="2254.51" x2="1553" y2="2275.33" stroke="#1c1512" stroke-width="3" stroke-linecap="butt"/>
<line x1="1544" y1="2254.51" x2="1562" y2="2254.51" stroke="#1c1512" stroke-width="3" stroke-linecap="butt"/>
<rect x="1539.2" y="2275.83" width="27.6" height="177.67" fill="#e53f3a" stroke="#1c1512" stroke-width="3"/>
<line x1="1597.5" y1="2377.99" x2="1597.5" y2="2387.26" stroke="#1c1512" stroke-width="3" stroke-linecap="butt"/>
<line x1="1588.5" y1="2377.99" x2="1606.5" y2="2377.99" stroke="#1c1512" stroke-width="3" stroke-linecap="butt"/>
<rect x="1583.8" y="2387.76" width="27.4" height="65.74" fill="#2b4aa6" stroke="#1c1512" stroke-width="3"/>
<line x1="1643" y1="2370.89" x2="1643" y2="2382.82" stroke="#1c1512" stroke-width="3" stroke-linecap="butt"/>
<line x1="1634" y1="2370.89" x2="1652" y2="2370.89" stroke="#1c1512" stroke-width="3" stroke-linecap="butt"/>
<rect x="1629.2" y="2383.32" width="27.6" height="70.18" fill="#2a9fb5" stroke="#1c1512" stroke-width="3"/>
<line x1="1688.65" y1="2270.5" x2="1688.65" y2="2285.99" stroke="#1c1512" stroke-width="3" stroke-linecap="butt"/>
<line x1="1679.65" y1="2270.5" x2="1697.65" y2="2270.5" stroke="#1c1512" stroke-width="3" stroke-linecap="butt"/>
<rect x="1674.8" y="2286.49" width="27.7" height="167.01" fill="#a6a6ab" stroke="#1c1512" stroke-width="3"/>
<line x1="1337.3" y1="2234.3" x2="1396" y2="2234.3" stroke="#1c1512" stroke-width="3" stroke-linecap="round"/>
<ellipse cx="1369.3" cy="2218.3" rx="2.44" ry="2.1" fill="#1c1512"/>
<line x1="1426" y1="2263.3" x2="1479.3" y2="2263.3" stroke="#1c1512" stroke-width="3" stroke-linecap="round"/>
<ellipse cx="1454.3" cy="2246.7" rx="2.44" ry="2.1" fill="#1c1512"/>
<line x1="1550" y1="2240" x2="1605" y2="2240" stroke="#1c1512" stroke-width="3" stroke-linecap="round"/>
<ellipse cx="1579" cy="2225" rx="2.44" ry="2.1" fill="#1c1512"/>
<line x1="1630" y1="2253.3" x2="1695" y2="2253.3" stroke="#1c1512" stroke-width="3" stroke-linecap="round"/>
<ellipse cx="1661.7" cy="2230" rx="2.44" ry="2.1" fill="#1c1512"/>
<text x="1265.64" y="2459.78" font-size="18" font-weight="bold" fill="#231f20" textLength="28.28" lengthAdjust="spacingAndGlyphs">0.0</text>
<text x="1265.38" y="2370.95" font-size="18" font-weight="bold" fill="#231f20" textLength="28.28" lengthAdjust="spacingAndGlyphs">0.5</text>
<text x="1265.64" y="2282.12" font-size="18" font-weight="bold" fill="#231f20" textLength="28.28" lengthAdjust="spacingAndGlyphs">1.0</text>
<text x="1265.38" y="2193.19" font-size="18" font-weight="bold" fill="#231f20" textLength="28.28" lengthAdjust="spacingAndGlyphs">1.5</text>
<text x="1370.56" y="2480" font-size="20" font-weight="bold" fill="#231f20" textLength="80.22" lengthAdjust="spacingAndGlyphs">HCT116</text>
<text x="1591.56" y="2480" font-size="20" font-weight="bold" fill="#231f20" textLength="57.11" lengthAdjust="spacingAndGlyphs">HCT8</text>
<text transform="translate(1255,2455.26) rotate(-90)" x="0" y="0" font-size="23" font-weight="normal" fill="#231f20" textLength="275.13" lengthAdjust="spacingAndGlyphs">Relative number of branches</text>
</svg>
</body></html>
